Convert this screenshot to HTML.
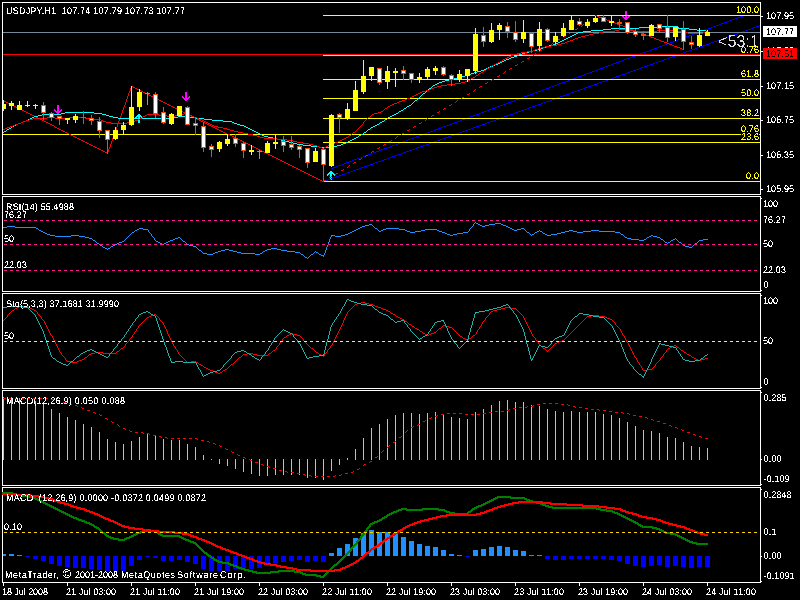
<!DOCTYPE html>
<html><head><meta charset="utf-8"><title>USDJPY,H1</title>
<style>
html,body{margin:0;padding:0;background:#000;width:800px;height:600px;overflow:hidden}
svg{display:block;font-family:"Liberation Sans",sans-serif}
text{font-family:"Liberation Sans",sans-serif}
</style></head><body>
<svg width="800" height="600" viewBox="0 0 800 600" shape-rendering="crispEdges">
<rect x="0" y="0" width="800" height="600" fill="#000"/>
<defs><filter id="tf" x="0" y="0" width="800" height="600" filterUnits="userSpaceOnUse" color-interpolation-filters="sRGB"><feComponentTransfer><feFuncA type="discrete" tableValues="0 0 0 0 1 1 1 1 1"/></feComponentTransfer></filter><filter id="tf2" x="0" y="0" width="800" height="600" filterUnits="userSpaceOnUse" color-interpolation-filters="sRGB"><feComponentTransfer><feFuncA type="discrete" tableValues="0 0 0 0 0 0 1 1 1 1"/></feComponentTransfer></filter><clipPath id="cp55"><rect x="763" y="40" width="37" height="8"/></clipPath><clipPath id="cpm"><rect x="3" y="3" width="757" height="191"/></clipPath></defs>
<rect x="2" y="2" width="759" height="1" fill="#fff"/>
<rect x="2" y="194" width="759" height="1" fill="#fff"/>
<rect x="2" y="2" width="1" height="193" fill="#fff"/>
<rect x="760" y="2" width="1" height="193" fill="#fff"/>
<rect x="2" y="196" width="759" height="1" fill="#fff"/>
<rect x="2" y="291" width="759" height="1" fill="#fff"/>
<rect x="2" y="196" width="1" height="96" fill="#fff"/>
<rect x="760" y="196" width="1" height="96" fill="#fff"/>
<rect x="2" y="293" width="759" height="1" fill="#fff"/>
<rect x="2" y="388" width="759" height="1" fill="#fff"/>
<rect x="2" y="293" width="1" height="96" fill="#fff"/>
<rect x="760" y="293" width="1" height="96" fill="#fff"/>
<rect x="2" y="390" width="759" height="1" fill="#fff"/>
<rect x="2" y="485" width="759" height="1" fill="#fff"/>
<rect x="2" y="390" width="1" height="96" fill="#fff"/>
<rect x="760" y="390" width="1" height="96" fill="#fff"/>
<rect x="2" y="487" width="759" height="1" fill="#fff"/>
<rect x="2" y="582" width="759" height="1" fill="#fff"/>
<rect x="2" y="487" width="1" height="96" fill="#fff"/>
<rect x="760" y="487" width="1" height="96" fill="#fff"/>
<rect x="57" y="105" width="2" height="1" fill="#ff00ff"/>
<rect x="57" y="106" width="2" height="1" fill="#ff00ff"/>
<rect x="57" y="107" width="2" height="1" fill="#ff00ff"/>
<rect x="57" y="108" width="2" height="1" fill="#ff00ff"/>
<rect x="54" y="109" width="1" height="1" fill="#ff00ff"/>
<rect x="57" y="109" width="2" height="1" fill="#ff00ff"/>
<rect x="61" y="109" width="1" height="1" fill="#ff00ff"/>
<rect x="54" y="110" width="2" height="1" fill="#ff00ff"/>
<rect x="57" y="110" width="2" height="1" fill="#ff00ff"/>
<rect x="60" y="110" width="2" height="1" fill="#ff00ff"/>
<rect x="55" y="111" width="6" height="1" fill="#ff00ff"/>
<rect x="56" y="112" width="4" height="1" fill="#ff00ff"/>
<rect x="57" y="113" width="2" height="1" fill="#ff00ff"/>
<rect x="138" y="114" width="2" height="1" fill="#00ffff"/>
<rect x="137" y="115" width="4" height="1" fill="#00ffff"/>
<rect x="136" y="116" width="6" height="1" fill="#00ffff"/>
<rect x="135" y="117" width="2" height="1" fill="#00ffff"/>
<rect x="138" y="117" width="2" height="1" fill="#00ffff"/>
<rect x="141" y="117" width="2" height="1" fill="#00ffff"/>
<rect x="135" y="118" width="1" height="1" fill="#00ffff"/>
<rect x="138" y="118" width="2" height="1" fill="#00ffff"/>
<rect x="142" y="118" width="1" height="1" fill="#00ffff"/>
<rect x="138" y="119" width="2" height="1" fill="#00ffff"/>
<rect x="138" y="120" width="2" height="1" fill="#00ffff"/>
<rect x="138" y="121" width="2" height="1" fill="#00ffff"/>
<rect x="138" y="122" width="2" height="1" fill="#00ffff"/>
<rect x="185" y="92" width="2" height="1" fill="#ff00ff"/>
<rect x="185" y="93" width="2" height="1" fill="#ff00ff"/>
<rect x="185" y="94" width="2" height="1" fill="#ff00ff"/>
<rect x="185" y="95" width="2" height="1" fill="#ff00ff"/>
<rect x="182" y="96" width="1" height="1" fill="#ff00ff"/>
<rect x="185" y="96" width="2" height="1" fill="#ff00ff"/>
<rect x="189" y="96" width="1" height="1" fill="#ff00ff"/>
<rect x="182" y="97" width="2" height="1" fill="#ff00ff"/>
<rect x="185" y="97" width="2" height="1" fill="#ff00ff"/>
<rect x="188" y="97" width="2" height="1" fill="#ff00ff"/>
<rect x="183" y="98" width="6" height="1" fill="#ff00ff"/>
<rect x="184" y="99" width="4" height="1" fill="#ff00ff"/>
<rect x="185" y="100" width="2" height="1" fill="#ff00ff"/>
<rect x="330" y="171" width="2" height="1" fill="#00ffff"/>
<rect x="329" y="172" width="4" height="1" fill="#00ffff"/>
<rect x="328" y="173" width="6" height="1" fill="#00ffff"/>
<rect x="327" y="174" width="2" height="1" fill="#00ffff"/>
<rect x="330" y="174" width="2" height="1" fill="#00ffff"/>
<rect x="333" y="174" width="2" height="1" fill="#00ffff"/>
<rect x="327" y="175" width="1" height="1" fill="#00ffff"/>
<rect x="330" y="175" width="2" height="1" fill="#00ffff"/>
<rect x="334" y="175" width="1" height="1" fill="#00ffff"/>
<rect x="330" y="176" width="2" height="1" fill="#00ffff"/>
<rect x="330" y="177" width="2" height="1" fill="#00ffff"/>
<rect x="330" y="178" width="2" height="1" fill="#00ffff"/>
<rect x="330" y="179" width="2" height="1" fill="#00ffff"/>
<rect x="625" y="11" width="2" height="1" fill="#ff00ff"/>
<rect x="625" y="12" width="2" height="1" fill="#ff00ff"/>
<rect x="625" y="13" width="2" height="1" fill="#ff00ff"/>
<rect x="625" y="14" width="2" height="1" fill="#ff00ff"/>
<rect x="622" y="15" width="1" height="1" fill="#ff00ff"/>
<rect x="625" y="15" width="2" height="1" fill="#ff00ff"/>
<rect x="629" y="15" width="1" height="1" fill="#ff00ff"/>
<rect x="622" y="16" width="2" height="1" fill="#ff00ff"/>
<rect x="625" y="16" width="2" height="1" fill="#ff00ff"/>
<rect x="628" y="16" width="2" height="1" fill="#ff00ff"/>
<rect x="623" y="17" width="6" height="1" fill="#ff00ff"/>
<rect x="624" y="18" width="4" height="1" fill="#ff00ff"/>
<rect x="625" y="19" width="2" height="1" fill="#ff00ff"/>
<g clip-path="url(#cpm)">
<path d="M759 9.5h1M756 10.5h3M754 11.5h2M751 12.5h3M748 13.5h3M746 14.5h2M743 15.5h3M740 16.5h3M738 17.5h2M735 18.5h3M732 19.5h3M729 20.5h3M727 21.5h2M724 22.5h3M721 23.5h3M719 24.5h2M716 25.5h3M713 26.5h3M711 27.5h2M708 28.5h3M705 29.5h3M702 30.5h3M700 31.5h2M697 32.5h3M694 33.5h3M692 34.5h2M689 35.5h3M686 36.5h3M684 37.5h2M681 38.5h3M678 39.5h3M676 40.5h2M673 41.5h3M670 42.5h3M667 43.5h3M665 44.5h2M662 45.5h3M659 46.5h3M657 47.5h2M654 48.5h3M651 49.5h3M649 50.5h2M646 51.5h3M643 52.5h3M640 53.5h3M638 54.5h2M635 55.5h3M632 56.5h3M630 57.5h2M627 58.5h3M624 59.5h3M622 60.5h2M619 61.5h3M616 62.5h3M613 63.5h3M611 64.5h2M608 65.5h3M605 66.5h3M603 67.5h2M600 68.5h3M597 69.5h3M595 70.5h2M592 71.5h3M589 72.5h3M586 73.5h3M584 74.5h2M581 75.5h3M578 76.5h3M576 77.5h2M573 78.5h3M570 79.5h3M568 80.5h2M565 81.5h3M562 82.5h3M559 83.5h3M557 84.5h2M554 85.5h3M551 86.5h3M549 87.5h2M546 88.5h3M543 89.5h3M541 90.5h2M538 91.5h3M535 92.5h3M533 93.5h2M530 94.5h3M527 95.5h3M524 96.5h3M522 97.5h2M519 98.5h3M516 99.5h3M514 100.5h2M511 101.5h3M508 102.5h3M506 103.5h2M503 104.5h3M500 105.5h3M497 106.5h3M495 107.5h2M492 108.5h3M489 109.5h3M487 110.5h2M484 111.5h3M481 112.5h3M479 113.5h2M476 114.5h3M473 115.5h3M470 116.5h3M468 117.5h2M465 118.5h3M462 119.5h3M460 120.5h2M457 121.5h3M454 122.5h3M452 123.5h2M449 124.5h3M446 125.5h3M443 126.5h3M441 127.5h2M438 128.5h3M435 129.5h3M433 130.5h2M430 131.5h3M427 132.5h3M425 133.5h2M422 134.5h3M419 135.5h3M416 136.5h3M414 137.5h2M411 138.5h3M408 139.5h3M406 140.5h2M403 141.5h3M400 142.5h3M398 143.5h2M395 144.5h3M392 145.5h3M390 146.5h2M387 147.5h3M384 148.5h3M381 149.5h3M379 150.5h2M376 151.5h3M373 152.5h3M371 153.5h2M368 154.5h3M365 155.5h3M363 156.5h2M360 157.5h3M357 158.5h3M354 159.5h3M352 160.5h2M349 161.5h3M346 162.5h3M344 163.5h2M341 164.5h3M338 165.5h3M336 166.5h2M333 167.5h3M331 168.5h2" stroke="#0000ff" stroke-width="1" fill="none"/>
<path d="M759 25.5h1M756 26.5h3M753 27.5h3M751 28.5h2M748 29.5h3M745 30.5h3M742 31.5h3M739 32.5h3M737 33.5h2M734 34.5h3M731 35.5h3M728 36.5h3M725 37.5h3M723 38.5h2M720 39.5h3M717 40.5h3M714 41.5h3M711 42.5h3M709 43.5h2M706 44.5h3M703 45.5h3M700 46.5h3M697 47.5h3M695 48.5h2M692 49.5h3M689 50.5h3M686 51.5h3M683 52.5h3M681 53.5h2M678 54.5h3M675 55.5h3M672 56.5h3M669 57.5h3M667 58.5h2M664 59.5h3M661 60.5h3M658 61.5h3M655 62.5h3M653 63.5h2M650 64.5h3M647 65.5h3M644 66.5h3M641 67.5h3M639 68.5h2M636 69.5h3M633 70.5h3M630 71.5h3M627 72.5h3M625 73.5h2M622 74.5h3M619 75.5h3M616 76.5h3M613 77.5h3M611 78.5h2M608 79.5h3M605 80.5h3M602 81.5h3M599 82.5h3M597 83.5h2M594 84.5h3M591 85.5h3M588 86.5h3M585 87.5h3M583 88.5h2M580 89.5h3M577 90.5h3M574 91.5h3M571 92.5h3M569 93.5h2M566 94.5h3M563 95.5h3M560 96.5h3M557 97.5h3M555 98.5h2M552 99.5h3M549 100.5h3M546 101.5h3M543 102.5h3M541 103.5h2M538 104.5h3M535 105.5h3M532 106.5h3M529 107.5h3M527 108.5h2M524 109.5h3M521 110.5h3M518 111.5h3M515 112.5h3M513 113.5h2M510 114.5h3M507 115.5h3M504 116.5h3M501 117.5h3M499 118.5h2M496 119.5h3M493 120.5h3M490 121.5h3M487 122.5h3M485 123.5h2M482 124.5h3M479 125.5h3M476 126.5h3M473 127.5h3M471 128.5h2M468 129.5h3M465 130.5h3M462 131.5h3M459 132.5h3M457 133.5h2M454 134.5h3M451 135.5h3M448 136.5h3M445 137.5h3M443 138.5h2M440 139.5h3M437 140.5h3M434 141.5h3M431 142.5h3M429 143.5h2M426 144.5h3M423 145.5h3M420 146.5h3M417 147.5h3M415 148.5h2M412 149.5h3M409 150.5h3M406 151.5h3M403 152.5h3M401 153.5h2M398 154.5h3M395 155.5h3M392 156.5h3M389 157.5h3M387 158.5h2M384 159.5h3M381 160.5h3M378 161.5h3M375 162.5h3M373 163.5h2M370 164.5h3M367 165.5h3M364 166.5h3M361 167.5h3M359 168.5h2M356 169.5h3M353 170.5h3M350 171.5h3M347 172.5h3M345 173.5h2M342 174.5h3M339 175.5h3M336 176.5h3M333 177.5h3M331 178.5h2M328 179.5h3M325 180.5h3M323 181.5h2" stroke="#0000ff" stroke-width="1" fill="none"/>
<rect x="323" y="15" width="437" height="1" fill="#ffff00"/>
<rect x="323" y="79" width="437" height="1" fill="#ffff00"/>
<rect x="323" y="98" width="437" height="1" fill="#ffff00"/>
<rect x="323" y="118" width="437" height="1" fill="#ffff00"/>
<rect x="323" y="142" width="437" height="1" fill="#ffff00"/>
<rect x="323" y="181" width="437" height="1" fill="#ffff00"/>
<rect x="323" y="55" width="437" height="1" fill="#ffff00"/>
<rect x="3" y="134" width="757" height="1" fill="#ffff00"/>
<rect x="736" y="5" width="23" height="10" fill="#000"/>
<rect x="741" y="69" width="18" height="10" fill="#000"/>
<rect x="741" y="88" width="18" height="10" fill="#000"/>
<rect x="741" y="108" width="18" height="10" fill="#000"/>
<rect x="741" y="124" width="18" height="10" fill="#000"/>
<rect x="741" y="132" width="18" height="10" fill="#000"/>
<rect x="746" y="171" width="13" height="10" fill="#000"/>
<rect x="3" y="54" width="757" height="1" fill="#ff0000"/>
<path d="M131 86.5h2M131 87.5h1M133 87.5h2M130 88.5h1M135 88.5h2M130 89.5h1M137 89.5h2M130 90.5h1M139 90.5h2M129 91.5h1M141 91.5h2M129 92.5h1M143 92.5h2M128 93.5h1M145 93.5h2M128 94.5h1M147 94.5h2M128 95.5h1M149 95.5h2M127 96.5h1M151 96.5h2M127 97.5h1M153 97.5h2M127 98.5h1M155 98.5h2M126 99.5h1M157 99.5h2M3 100.5h1M126 100.5h1M159 100.5h2M4 101.5h2M126 101.5h1M161 101.5h2M6 102.5h2M125 102.5h1M163 102.5h2M8 103.5h2M125 103.5h1M165 103.5h2M10 104.5h2M125 104.5h1M167 104.5h2M12 105.5h2M124 105.5h1M169 105.5h2M14 106.5h2M124 106.5h1M171 106.5h2M16 107.5h2M123 107.5h1M173 107.5h2M18 108.5h2M123 108.5h1M175 108.5h2M20 109.5h2M123 109.5h1M177 109.5h2M22 110.5h2M122 110.5h1M179 110.5h2M24 111.5h2M122 111.5h1M181 111.5h2M26 112.5h2M122 112.5h1M183 112.5h2M28 113.5h2M121 113.5h1M185 113.5h2M30 114.5h2M121 114.5h1M187 114.5h2M32 115.5h2M121 115.5h1M189 115.5h2M34 116.5h2M120 116.5h1M191 116.5h2M36 117.5h2M120 117.5h1M193 117.5h2M38 118.5h2M120 118.5h1M195 118.5h2M40 119.5h2M119 119.5h1M197 119.5h2M42 120.5h2M119 120.5h1M199 120.5h2M44 121.5h2M118 121.5h1M201 121.5h2M46 122.5h2M118 122.5h1M203 122.5h2M48 123.5h2M118 123.5h1M205 123.5h2M50 124.5h2M117 124.5h1M207 124.5h2M52 125.5h2M117 125.5h1M209 125.5h2M54 126.5h1M117 126.5h1M211 126.5h2M55 127.5h2M116 127.5h1M213 127.5h2M57 128.5h2M116 128.5h1M215 128.5h2M59 129.5h2M116 129.5h1M217 129.5h2M61 130.5h2M115 130.5h1M219 130.5h2M63 131.5h2M115 131.5h1M221 131.5h2M65 132.5h2M115 132.5h1M223 132.5h2M67 133.5h2M114 133.5h1M225 133.5h2M69 134.5h2M114 134.5h1M227 134.5h3M71 135.5h2M113 135.5h1M230 135.5h2M73 136.5h2M113 136.5h1M232 136.5h2M75 137.5h2M113 137.5h1M234 137.5h2M77 138.5h2M112 138.5h1M236 138.5h2M79 139.5h2M112 139.5h1M238 139.5h2M81 140.5h2M112 140.5h1M240 140.5h2M83 141.5h2M111 141.5h1M242 141.5h2M85 142.5h2M111 142.5h1M244 142.5h2M87 143.5h2M111 143.5h1M246 143.5h2M89 144.5h2M110 144.5h1M248 144.5h2M91 145.5h2M110 145.5h1M250 145.5h2M93 146.5h2M110 146.5h1M252 146.5h2M95 147.5h2M109 147.5h1M254 147.5h2M97 148.5h2M109 148.5h1M256 148.5h2M99 149.5h2M108 149.5h1M258 149.5h2M101 150.5h2M108 150.5h1M260 150.5h2M103 151.5h2M108 151.5h1M262 151.5h2M105 152.5h3M264 152.5h2M107 153.5h1M266 153.5h2M268 154.5h2M270 155.5h2M272 156.5h2M274 157.5h2M276 158.5h2M278 159.5h2M280 160.5h2M282 161.5h2M284 162.5h2M286 163.5h2M288 164.5h2M290 165.5h2M292 166.5h2M294 167.5h2M296 168.5h2M298 169.5h2M300 170.5h2M302 171.5h2M304 172.5h2M306 173.5h2M308 174.5h2M310 175.5h2M312 176.5h2M314 177.5h2M316 178.5h2M318 179.5h2M320 180.5h2M322 181.5h2" stroke="#ff0000" stroke-width="1" fill="none"/>
<path d="M595 17.5h1M593 18.5h2M588 21.5h2M587 22.5h1M583 24.5h1M582 25.5h1M581 26.5h1M577 28.5h1M575 29.5h2M570 32.5h2M569 33.5h1M565 35.5h1M563 36.5h2M558 39.5h2M557 40.5h1M553 42.5h1M552 43.5h1M551 44.5h1M547 46.5h1M545 47.5h2M540 50.5h2M539 51.5h1M535 53.5h1M534 54.5h1M533 55.5h1M529 57.5h1M527 58.5h2M522 61.5h2M521 62.5h1M517 64.5h1M515 65.5h2M510 68.5h2M509 69.5h1M505 71.5h1M504 72.5h1M503 73.5h1M499 75.5h1M497 76.5h2M492 79.5h2M491 80.5h1M487 82.5h1M485 83.5h2M480 86.5h2M479 87.5h1M475 89.5h1M474 90.5h1M473 91.5h1M469 93.5h1M467 94.5h2M462 97.5h2M461 98.5h1M457 100.5h1M456 101.5h1M455 102.5h1M451 104.5h1M449 105.5h2M444 108.5h2M443 109.5h1M439 111.5h1M437 112.5h2M432 115.5h2M431 116.5h1M427 118.5h1M426 119.5h1M425 120.5h1M421 122.5h1M419 123.5h2M414 126.5h2M413 127.5h1M409 129.5h1M407 130.5h2M402 133.5h2M401 134.5h1M397 136.5h1M396 137.5h1M395 138.5h1M391 140.5h1M389 141.5h2M384 144.5h2M383 145.5h1M379 147.5h1M377 148.5h2M372 151.5h2M371 152.5h1M366 155.5h2M365 156.5h1M361 158.5h1M359 159.5h2M354 162.5h2M353 163.5h1M349 165.5h1M348 166.5h1M347 167.5h1M343 169.5h1M341 170.5h2M336 173.5h2M335 174.5h1M331 176.5h1M329 177.5h2M324 180.5h2M323 181.5h1" stroke="#ff0000" stroke-width="1" fill="none"/>
<path d="M595 15.5h2M597 16.5h2M599 17.5h3M602 18.5h3M605 19.5h2M607 20.5h3M610 21.5h2M612 22.5h3M615 23.5h2M617 24.5h3M620 25.5h3M623 26.5h2M625 27.5h3M628 28.5h2M630 29.5h3M633 30.5h3M636 31.5h2M638 32.5h3M641 33.5h2M643 34.5h3M646 35.5h3M649 36.5h2M651 37.5h3M654 38.5h2M656 39.5h3M659 40.5h2M661 41.5h3M664 42.5h3M667 43.5h2M669 44.5h3M672 45.5h2M674 46.5h3M677 47.5h3M680 48.5h2M682 49.5h2" stroke="#ff0000" stroke-width="1" fill="none"/>
<rect x="3" y="32" width="757" height="1" fill="#778899"/>
<path d="M659 26.5h19M639 27.5h20M678 27.5h1M611 28.5h28M678 28.5h11M603 29.5h8M689 29.5h8M591 30.5h12M697 30.5h9M583 31.5h8M706 31.5h2M578 32.5h5M576 33.5h2M574 34.5h2M572 35.5h2M570 36.5h2M568 37.5h2M566 38.5h2M564 39.5h2M562 40.5h2M560 41.5h2M558 42.5h2M556 43.5h2M553 44.5h3M549 45.5h4M546 46.5h3M543 47.5h3M541 48.5h2M537 49.5h4M533 50.5h4M529 51.5h4M525 52.5h4M522 53.5h3M519 54.5h3M517 55.5h2M514 56.5h3M511 57.5h3M509 58.5h2M506 59.5h3M504 60.5h2M502 61.5h2M500 62.5h2M498 63.5h2M495 64.5h3M493 65.5h2M490 66.5h3M488 67.5h2M486 68.5h2M484 69.5h2M481 70.5h3M477 71.5h4M474 72.5h3M471 73.5h3M469 74.5h2M465 75.5h4M461 76.5h4M457 77.5h4M453 78.5h4M449 79.5h4M445 80.5h4M442 81.5h3M439 82.5h3M437 83.5h2M435 84.5h2M433 85.5h2M432 86.5h1M431 87.5h1M429 88.5h2M428 89.5h1M427 90.5h1M426 91.5h1M425 92.5h1M423 93.5h2M422 94.5h1M421 95.5h1M420 96.5h1M419 97.5h1M418 98.5h1M417 99.5h1M415 100.5h2M414 101.5h1M413 102.5h1M412 103.5h1M411 104.5h1M409 105.5h2M407 106.5h2M406 107.5h1M404 108.5h2M403 109.5h1M401 110.5h2M399 111.5h2M65 112.5h29M398 112.5h1M61 113.5h4M94 113.5h8M396 113.5h2M42 114.5h19M102 114.5h4M394 114.5h2M38 115.5h4M106 115.5h3M392 115.5h2M34 116.5h4M109 116.5h4M178 116.5h7M390 116.5h2M32 117.5h2M113 117.5h5M174 117.5h4M185 117.5h10M388 117.5h2M30 118.5h2M118 118.5h56M195 118.5h9M387 118.5h1M28 119.5h2M204 119.5h8M385 119.5h2M26 120.5h2M212 120.5h11M384 120.5h1M23 121.5h3M223 121.5h9M382 121.5h2M21 122.5h2M232 122.5h2M380 122.5h2M18 123.5h3M234 123.5h3M379 123.5h1M16 124.5h2M237 124.5h3M377 124.5h2M14 125.5h2M240 125.5h4M375 125.5h2M12 126.5h2M244 126.5h2M373 126.5h2M11 127.5h1M246 127.5h2M371 127.5h2M9 128.5h2M248 128.5h2M370 128.5h1M7 129.5h2M250 129.5h2M368 129.5h2M6 130.5h1M252 130.5h2M367 130.5h1M4 131.5h2M254 131.5h2M366 131.5h1M3 132.5h1M256 132.5h2M364 132.5h2M258 133.5h2M363 133.5h1M260 134.5h2M361 134.5h2M262 135.5h2M359 135.5h2M264 136.5h4M358 136.5h1M268 137.5h5M356 137.5h2M273 138.5h4M354 138.5h2M277 139.5h4M352 139.5h2M281 140.5h4M350 140.5h2M285 141.5h4M348 141.5h2M289 142.5h4M346 142.5h2M293 143.5h4M343 143.5h3M297 144.5h6M341 144.5h2M303 145.5h8M337 145.5h4M311 146.5h8M333 146.5h4M319 147.5h14" stroke="#00ffff" stroke-width="1" fill="none"/>
<path d="M619 29.5h6M615 30.5h4M625 30.5h8M657 30.5h16M603 31.5h12M633 31.5h24M673 31.5h8M599 32.5h4M681 32.5h7M703 32.5h5M593 33.5h6M688 33.5h15M589 34.5h4M585 35.5h4M581 36.5h4M578 37.5h3M575 38.5h3M573 39.5h2M570 40.5h3M567 41.5h3M565 42.5h2M561 43.5h4M557 44.5h4M551 45.5h6M545 46.5h6M541 47.5h4M538 48.5h3M535 49.5h3M533 50.5h2M527 51.5h6M521 52.5h6M517 53.5h4M514 54.5h3M511 55.5h3M509 56.5h2M507 57.5h2M505 58.5h2M503 59.5h2M502 60.5h1M500 61.5h2M498 62.5h2M496 63.5h2M494 64.5h2M492 65.5h2M491 66.5h1M489 67.5h2M487 68.5h2M486 69.5h1M484 70.5h2M483 71.5h1M481 72.5h2M479 73.5h2M478 74.5h1M476 75.5h2M475 76.5h1M473 77.5h2M471 78.5h2M470 79.5h1M468 80.5h2M465 81.5h3M461 82.5h4M455 83.5h6M447 84.5h8M441 85.5h6M437 86.5h4M434 87.5h3M431 88.5h3M429 89.5h2M426 90.5h3M422 91.5h4M420 92.5h2M418 93.5h2M416 94.5h2M414 95.5h2M412 96.5h2M410 97.5h2M407 98.5h3M405 99.5h2M402 100.5h3M399 101.5h3M397 102.5h2M394 103.5h3M392 104.5h2M390 105.5h2M388 106.5h2M387 107.5h1M385 108.5h2M384 109.5h1M383 110.5h1M381 111.5h2M378 112.5h3M184 113.5h3M374 113.5h4M147 114.5h12M181 114.5h3M187 114.5h2M372 114.5h2M145 115.5h2M159 115.5h8M175 115.5h6M189 115.5h3M371 115.5h1M143 116.5h2M167 116.5h8M192 116.5h2M370 116.5h1M47 117.5h8M69 117.5h16M142 117.5h1M194 117.5h3M368 117.5h2M33 118.5h14M55 118.5h14M85 118.5h4M140 118.5h2M197 118.5h2M367 118.5h1M29 119.5h4M89 119.5h12M138 119.5h2M199 119.5h3M366 119.5h1M26 120.5h3M101 120.5h2M135 120.5h3M202 120.5h2M365 120.5h1M23 121.5h3M103 121.5h3M133 121.5h2M204 121.5h2M364 121.5h1M21 122.5h2M106 122.5h5M127 122.5h6M206 122.5h2M363 122.5h1M18 123.5h3M111 123.5h16M208 123.5h2M363 123.5h1M15 124.5h3M210 124.5h2M362 124.5h1M13 125.5h2M212 125.5h2M361 125.5h1M10 126.5h3M214 126.5h4M360 126.5h1M7 127.5h3M218 127.5h5M359 127.5h1M5 128.5h2M223 128.5h4M358 128.5h1M3 129.5h2M227 129.5h3M357 129.5h1M230 130.5h4M356 130.5h1M234 131.5h4M355 131.5h1M238 132.5h5M353 132.5h2M243 133.5h5M352 133.5h1M248 134.5h5M351 134.5h1M253 135.5h4M349 135.5h2M257 136.5h3M348 136.5h1M260 137.5h4M346 137.5h2M264 138.5h13M344 138.5h2M277 139.5h10M342 139.5h2M287 140.5h6M340 140.5h2M293 141.5h4M338 141.5h2M297 142.5h6M335 142.5h3M303 143.5h6M333 143.5h2M309 144.5h4M330 144.5h3M313 145.5h4M328 145.5h2M317 146.5h2M326 146.5h2M319 147.5h3M324 147.5h2M322 148.5h2" stroke="#ff0000" stroke-width="1" fill="none"/>
<rect x="3" y="100" width="1" height="11" fill="#ffff00"/>
<rect x="1" y="104" width="5" height="5" fill="#ffff00"/>
<rect x="11" y="101" width="1" height="9" fill="#ffff00"/>
<rect x="9" y="103" width="5" height="3" fill="#ffff00"/>
<rect x="19" y="101" width="1" height="9" fill="#ffff00"/>
<rect x="17" y="105" width="5" height="5" fill="#ffff00"/>
<rect x="27" y="101" width="1" height="6" fill="#ffff00"/>
<rect x="25" y="105" width="5" height="1" fill="#ffff00"/>
<rect x="35" y="104" width="1" height="5" fill="#ffff00"/>
<rect x="33" y="105" width="5" height="1" fill="#ffff00"/>
<rect x="43" y="102" width="1" height="18" fill="#ff4500"/>
<rect x="41" y="105" width="5" height="8" fill="#ff4500"/>
<rect x="42" y="106" width="3" height="6" fill="#fff"/>
<rect x="51" y="112" width="1" height="9" fill="#ff4500"/>
<rect x="49" y="113" width="5" height="5" fill="#ff4500"/>
<rect x="50" y="114" width="3" height="3" fill="#fff"/>
<rect x="59" y="116" width="1" height="9" fill="#ff4500"/>
<rect x="57" y="116" width="5" height="3" fill="#ff4500"/>
<rect x="58" y="117" width="3" height="1" fill="#fff"/>
<rect x="67" y="118" width="1" height="6" fill="#ffff00"/>
<rect x="65" y="118" width="5" height="2" fill="#ffff00"/>
<rect x="75" y="114" width="1" height="9" fill="#ffff00"/>
<rect x="73" y="116" width="5" height="4" fill="#ffff00"/>
<rect x="83" y="111" width="1" height="13" fill="#ff4500"/>
<rect x="81" y="117" width="5" height="1" fill="#ff4500"/>
<rect x="91" y="115" width="1" height="10" fill="#ff4500"/>
<rect x="89" y="118" width="5" height="3" fill="#ff4500"/>
<rect x="90" y="119" width="3" height="1" fill="#fff"/>
<rect x="99" y="117" width="1" height="21" fill="#ff4500"/>
<rect x="97" y="121" width="5" height="10" fill="#ff4500"/>
<rect x="98" y="122" width="3" height="8" fill="#fff"/>
<rect x="107" y="130" width="1" height="24" fill="#ff4500"/>
<rect x="105" y="130" width="5" height="10" fill="#ff4500"/>
<rect x="106" y="131" width="3" height="8" fill="#fff"/>
<rect x="115" y="127" width="1" height="13" fill="#ffff00"/>
<rect x="113" y="130" width="5" height="9" fill="#ffff00"/>
<rect x="123" y="122" width="1" height="12" fill="#ffff00"/>
<rect x="121" y="125" width="5" height="5" fill="#ffff00"/>
<rect x="131" y="86" width="1" height="40" fill="#ffff00"/>
<rect x="129" y="107" width="5" height="18" fill="#ffff00"/>
<rect x="139" y="89" width="1" height="22" fill="#ffff00"/>
<rect x="137" y="92" width="5" height="15" fill="#ffff00"/>
<rect x="147" y="92" width="1" height="13" fill="#00ff00"/>
<rect x="145" y="93" width="5" height="1" fill="#00ff00"/>
<rect x="155" y="92" width="1" height="26" fill="#ff4500"/>
<rect x="153" y="94" width="5" height="20" fill="#ff4500"/>
<rect x="154" y="95" width="3" height="18" fill="#fff"/>
<rect x="163" y="107" width="1" height="17" fill="#ff4500"/>
<rect x="161" y="112" width="5" height="11" fill="#ff4500"/>
<rect x="162" y="113" width="3" height="9" fill="#fff"/>
<rect x="171" y="113" width="1" height="12" fill="#ffff00"/>
<rect x="169" y="114" width="5" height="10" fill="#ffff00"/>
<rect x="179" y="106" width="1" height="11" fill="#ffff00"/>
<rect x="177" y="106" width="5" height="10" fill="#ffff00"/>
<rect x="187" y="106" width="1" height="19" fill="#ff4500"/>
<rect x="185" y="107" width="5" height="18" fill="#ff4500"/>
<rect x="186" y="108" width="3" height="16" fill="#fff"/>
<rect x="195" y="117" width="1" height="18" fill="#ff4500"/>
<rect x="193" y="123" width="5" height="3" fill="#ff4500"/>
<rect x="194" y="124" width="3" height="1" fill="#fff"/>
<rect x="203" y="122" width="1" height="30" fill="#ff4500"/>
<rect x="201" y="126" width="5" height="22" fill="#ff4500"/>
<rect x="202" y="127" width="3" height="20" fill="#fff"/>
<rect x="211" y="144" width="1" height="13" fill="#ff4500"/>
<rect x="209" y="146" width="5" height="4" fill="#ff4500"/>
<rect x="210" y="147" width="3" height="2" fill="#fff"/>
<rect x="219" y="141" width="1" height="11" fill="#ffff00"/>
<rect x="217" y="142" width="5" height="7" fill="#ffff00"/>
<rect x="227" y="134" width="1" height="12" fill="#ffff00"/>
<rect x="225" y="139" width="5" height="5" fill="#ffff00"/>
<rect x="235" y="134" width="1" height="13" fill="#ff4500"/>
<rect x="233" y="138" width="5" height="6" fill="#ff4500"/>
<rect x="234" y="139" width="3" height="4" fill="#fff"/>
<rect x="243" y="142" width="1" height="16" fill="#ff4500"/>
<rect x="241" y="143" width="5" height="8" fill="#ff4500"/>
<rect x="242" y="144" width="3" height="6" fill="#fff"/>
<rect x="251" y="145" width="1" height="10" fill="#ffff00"/>
<rect x="249" y="150" width="5" height="2" fill="#ffff00"/>
<rect x="259" y="150" width="1" height="9" fill="#00ff00"/>
<rect x="257" y="151" width="5" height="1" fill="#00ff00"/>
<rect x="267" y="141" width="1" height="12" fill="#ffff00"/>
<rect x="265" y="143" width="5" height="10" fill="#ffff00"/>
<rect x="275" y="135" width="1" height="14" fill="#ffff00"/>
<rect x="273" y="142" width="5" height="2" fill="#ffff00"/>
<rect x="283" y="136" width="1" height="16" fill="#ff4500"/>
<rect x="281" y="141" width="5" height="5" fill="#ff4500"/>
<rect x="282" y="142" width="3" height="3" fill="#fff"/>
<rect x="291" y="136" width="1" height="14" fill="#ff4500"/>
<rect x="289" y="144" width="5" height="4" fill="#ff4500"/>
<rect x="290" y="145" width="3" height="2" fill="#fff"/>
<rect x="299" y="145" width="1" height="13" fill="#ff4500"/>
<rect x="297" y="146" width="5" height="4" fill="#ff4500"/>
<rect x="298" y="147" width="3" height="2" fill="#fff"/>
<rect x="307" y="148" width="1" height="20" fill="#ff4500"/>
<rect x="305" y="148" width="5" height="15" fill="#ff4500"/>
<rect x="306" y="149" width="3" height="13" fill="#fff"/>
<rect x="315" y="148" width="1" height="14" fill="#ffff00"/>
<rect x="313" y="151" width="5" height="11" fill="#ffff00"/>
<rect x="323" y="148" width="1" height="33" fill="#ff4500"/>
<rect x="321" y="149" width="5" height="16" fill="#ff4500"/>
<rect x="322" y="150" width="3" height="14" fill="#fff"/>
<rect x="331" y="114" width="1" height="53" fill="#ffff00"/>
<rect x="329" y="115" width="5" height="51" fill="#ffff00"/>
<rect x="339" y="113" width="1" height="20" fill="#ff4500"/>
<rect x="337" y="114" width="5" height="4" fill="#ff4500"/>
<rect x="338" y="115" width="3" height="2" fill="#fff"/>
<rect x="347" y="103" width="1" height="17" fill="#ffff00"/>
<rect x="345" y="109" width="5" height="10" fill="#ffff00"/>
<rect x="355" y="81" width="1" height="30" fill="#ffff00"/>
<rect x="353" y="90" width="5" height="21" fill="#ffff00"/>
<rect x="363" y="60" width="1" height="34" fill="#ffff00"/>
<rect x="361" y="76" width="5" height="16" fill="#ffff00"/>
<rect x="371" y="67" width="1" height="14" fill="#ffff00"/>
<rect x="369" y="67" width="5" height="9" fill="#ffff00"/>
<rect x="379" y="68" width="1" height="17" fill="#ff4500"/>
<rect x="377" y="68" width="5" height="15" fill="#ff4500"/>
<rect x="378" y="69" width="3" height="13" fill="#fff"/>
<rect x="387" y="66" width="1" height="23" fill="#ffff00"/>
<rect x="385" y="71" width="5" height="11" fill="#ffff00"/>
<rect x="395" y="68" width="1" height="19" fill="#ffff00"/>
<rect x="393" y="71" width="5" height="2" fill="#ffff00"/>
<rect x="403" y="66" width="1" height="14" fill="#ff4500"/>
<rect x="401" y="70" width="5" height="4" fill="#ff4500"/>
<rect x="402" y="71" width="3" height="2" fill="#fff"/>
<rect x="411" y="73" width="1" height="10" fill="#ff4500"/>
<rect x="409" y="73" width="5" height="7" fill="#ff4500"/>
<rect x="410" y="74" width="3" height="5" fill="#fff"/>
<rect x="419" y="73" width="1" height="10" fill="#ffff00"/>
<rect x="417" y="77" width="5" height="2" fill="#ffff00"/>
<rect x="427" y="67" width="1" height="12" fill="#ffff00"/>
<rect x="425" y="69" width="5" height="8" fill="#ffff00"/>
<rect x="435" y="66" width="1" height="9" fill="#ffff00"/>
<rect x="433" y="68" width="5" height="3" fill="#ffff00"/>
<rect x="443" y="66" width="1" height="10" fill="#ff4500"/>
<rect x="441" y="67" width="5" height="8" fill="#ff4500"/>
<rect x="442" y="68" width="3" height="6" fill="#fff"/>
<rect x="451" y="74" width="1" height="12" fill="#ff4500"/>
<rect x="449" y="75" width="5" height="5" fill="#ff4500"/>
<rect x="450" y="76" width="3" height="3" fill="#fff"/>
<rect x="459" y="70" width="1" height="12" fill="#ffff00"/>
<rect x="457" y="74" width="5" height="5" fill="#ffff00"/>
<rect x="467" y="69" width="1" height="13" fill="#ffff00"/>
<rect x="465" y="69" width="5" height="7" fill="#ffff00"/>
<rect x="475" y="28" width="1" height="46" fill="#ffff00"/>
<rect x="473" y="34" width="5" height="37" fill="#ffff00"/>
<rect x="483" y="27" width="1" height="20" fill="#ff4500"/>
<rect x="481" y="35" width="5" height="7" fill="#ff4500"/>
<rect x="482" y="36" width="3" height="5" fill="#fff"/>
<rect x="491" y="23" width="1" height="20" fill="#ffff00"/>
<rect x="489" y="30" width="5" height="12" fill="#ffff00"/>
<rect x="499" y="23" width="1" height="17" fill="#ffff00"/>
<rect x="497" y="25" width="5" height="5" fill="#ffff00"/>
<rect x="507" y="22" width="1" height="16" fill="#ff4500"/>
<rect x="505" y="26" width="5" height="6" fill="#ff4500"/>
<rect x="506" y="27" width="3" height="4" fill="#fff"/>
<rect x="515" y="21" width="1" height="21" fill="#ff4500"/>
<rect x="513" y="32" width="5" height="8" fill="#ff4500"/>
<rect x="514" y="33" width="3" height="6" fill="#fff"/>
<rect x="523" y="20" width="1" height="23" fill="#ffff00"/>
<rect x="521" y="32" width="5" height="7" fill="#ffff00"/>
<rect x="531" y="32" width="1" height="21" fill="#ff4500"/>
<rect x="529" y="33" width="5" height="14" fill="#ff4500"/>
<rect x="530" y="34" width="3" height="12" fill="#fff"/>
<rect x="539" y="22" width="1" height="29" fill="#ffff00"/>
<rect x="537" y="29" width="5" height="17" fill="#ffff00"/>
<rect x="547" y="28" width="1" height="14" fill="#ff4500"/>
<rect x="545" y="29" width="5" height="12" fill="#ff4500"/>
<rect x="546" y="30" width="3" height="10" fill="#fff"/>
<rect x="555" y="32" width="1" height="12" fill="#ffff00"/>
<rect x="553" y="36" width="5" height="6" fill="#ffff00"/>
<rect x="563" y="23" width="1" height="14" fill="#ffff00"/>
<rect x="561" y="28" width="5" height="8" fill="#ffff00"/>
<rect x="571" y="16" width="1" height="14" fill="#ffff00"/>
<rect x="569" y="20" width="5" height="10" fill="#ffff00"/>
<rect x="579" y="18" width="1" height="8" fill="#ff4500"/>
<rect x="577" y="21" width="5" height="4" fill="#ff4500"/>
<rect x="578" y="22" width="3" height="2" fill="#fff"/>
<rect x="587" y="19" width="1" height="9" fill="#ffff00"/>
<rect x="585" y="22" width="5" height="4" fill="#ffff00"/>
<rect x="595" y="16" width="1" height="7" fill="#ffff00"/>
<rect x="593" y="18" width="5" height="4" fill="#ffff00"/>
<rect x="603" y="15" width="1" height="7" fill="#ff4500"/>
<rect x="601" y="17" width="5" height="5" fill="#ff4500"/>
<rect x="602" y="18" width="3" height="3" fill="#fff"/>
<rect x="611" y="16" width="1" height="10" fill="#ffff00"/>
<rect x="609" y="21" width="5" height="2" fill="#ffff00"/>
<rect x="619" y="19" width="1" height="11" fill="#ff4500"/>
<rect x="617" y="22" width="5" height="2" fill="#ff4500"/>
<rect x="627" y="22" width="1" height="12" fill="#ff4500"/>
<rect x="625" y="22" width="5" height="11" fill="#ff4500"/>
<rect x="626" y="23" width="3" height="9" fill="#fff"/>
<rect x="635" y="29" width="1" height="8" fill="#ff4500"/>
<rect x="633" y="31" width="5" height="4" fill="#ff4500"/>
<rect x="634" y="32" width="3" height="2" fill="#fff"/>
<rect x="643" y="31" width="1" height="9" fill="#ff4500"/>
<rect x="641" y="34" width="5" height="2" fill="#ff4500"/>
<rect x="651" y="24" width="1" height="12" fill="#ffff00"/>
<rect x="649" y="25" width="5" height="11" fill="#ffff00"/>
<rect x="659" y="24" width="1" height="8" fill="#ff4500"/>
<rect x="657" y="24" width="5" height="5" fill="#ff4500"/>
<rect x="658" y="25" width="3" height="3" fill="#fff"/>
<rect x="667" y="15" width="1" height="27" fill="#ff4500"/>
<rect x="665" y="27" width="5" height="11" fill="#ff4500"/>
<rect x="666" y="28" width="3" height="9" fill="#fff"/>
<rect x="675" y="27" width="1" height="14" fill="#ffff00"/>
<rect x="673" y="27" width="5" height="10" fill="#ffff00"/>
<rect x="683" y="21" width="1" height="29" fill="#ff4500"/>
<rect x="681" y="29" width="5" height="13" fill="#ff4500"/>
<rect x="682" y="30" width="3" height="11" fill="#fff"/>
<rect x="691" y="36" width="1" height="13" fill="#ff4500"/>
<rect x="689" y="42" width="5" height="3" fill="#ff4500"/>
<rect x="690" y="43" width="3" height="1" fill="#fff"/>
<rect x="699" y="28" width="1" height="19" fill="#ffff00"/>
<rect x="697" y="35" width="5" height="11" fill="#ffff00"/>
<rect x="707" y="30" width="1" height="6" fill="#ffff00"/>
<rect x="705" y="32" width="5" height="4" fill="#ffff00"/>
</g>
<g clip-path="url(#cpm)">
<g filter="url(#tf2)" text-rendering="geometricPrecision"><text transform="translate(718 47) scale(0.94 1)" fill="#e0e0e0" font-size="17.2" >&lt;53:17</text></g>
</g>
<rect x="760" y="2" width="1" height="193" fill="#fff"/>
<rect x="761" y="16" width="2" height="1" fill="#fff"/>
<rect x="761" y="86" width="2" height="1" fill="#fff"/>
<rect x="761" y="120" width="2" height="1" fill="#fff"/>
<rect x="761" y="155" width="2" height="1" fill="#fff"/>
<rect x="761" y="189" width="2" height="1" fill="#fff"/>
<rect x="761" y="51" width="2" height="1" fill="#fff"/>
<rect x="763" y="26" width="34" height="11" fill="#fff"/>
<rect x="763" y="48" width="34" height="11" fill="#ff0000"/>
<path d="M475 222.5h1M474 223.5h1M476 223.5h2M495 223.5h6M369 224.5h3M473 224.5h1M478 224.5h2M489 224.5h6M501 224.5h2M365 225.5h4M372 225.5h1M473 225.5h1M480 225.5h2M485 225.5h4M503 225.5h3M7 226.5h8M362 226.5h3M373 226.5h1M472 226.5h1M482 226.5h3M506 226.5h2M3 227.5h4M15 227.5h21M360 227.5h2M374 227.5h1M471 227.5h1M508 227.5h2M36 228.5h2M139 228.5h4M358 228.5h2M375 228.5h2M386 228.5h13M470 228.5h1M510 228.5h2M521 228.5h3M38 229.5h1M137 229.5h2M143 229.5h5M356 229.5h2M377 229.5h1M383 229.5h3M399 229.5h6M425 229.5h12M469 229.5h1M512 229.5h2M517 229.5h4M524 229.5h1M39 230.5h2M135 230.5h2M148 230.5h1M354 230.5h2M378 230.5h1M381 230.5h2M405 230.5h2M421 230.5h4M437 230.5h2M469 230.5h1M514 230.5h3M525 230.5h1M539 230.5h1M569 230.5h4M591 230.5h8M41 231.5h2M134 231.5h1M148 231.5h1M352 231.5h2M379 231.5h2M407 231.5h3M415 231.5h6M439 231.5h3M468 231.5h1M526 231.5h1M537 231.5h2M540 231.5h2M565 231.5h4M573 231.5h4M583 231.5h8M599 231.5h16M43 232.5h2M132 232.5h2M149 232.5h1M350 232.5h2M410 232.5h5M442 232.5h3M463 232.5h5M527 232.5h2M535 232.5h2M542 232.5h1M561 232.5h4M577 232.5h6M615 232.5h5M45 233.5h2M131 233.5h1M150 233.5h1M348 233.5h2M445 233.5h2M457 233.5h6M529 233.5h1M534 233.5h1M543 233.5h2M557 233.5h4M620 233.5h1M47 234.5h3M130 234.5h1M151 234.5h1M345 234.5h3M447 234.5h3M453 234.5h4M530 234.5h1M532 234.5h2M545 234.5h2M551 234.5h6M621 234.5h2M50 235.5h5M71 235.5h8M129 235.5h1M151 235.5h1M331 235.5h4M341 235.5h4M450 235.5h3M531 235.5h1M547 235.5h4M623 235.5h1M651 235.5h2M55 236.5h16M79 236.5h6M128 236.5h1M152 236.5h1M331 236.5h1M335 236.5h6M624 236.5h1M649 236.5h2M653 236.5h4M85 237.5h4M127 237.5h1M153 237.5h1M178 237.5h2M330 237.5h1M625 237.5h2M647 237.5h2M657 237.5h3M89 238.5h3M126 238.5h1M154 238.5h1M175 238.5h3M180 238.5h1M330 238.5h1M627 238.5h4M646 238.5h1M660 238.5h1M675 238.5h1M92 239.5h1M125 239.5h1M154 239.5h1M173 239.5h2M181 239.5h1M329 239.5h1M631 239.5h8M644 239.5h2M661 239.5h2M673 239.5h2M676 239.5h1M703 239.5h5M93 240.5h2M124 240.5h1M155 240.5h1M170 240.5h3M182 240.5h1M329 240.5h1M639 240.5h5M663 240.5h1M671 240.5h2M677 240.5h1M699 240.5h4M95 241.5h1M122 241.5h2M156 241.5h2M168 241.5h2M183 241.5h2M329 241.5h1M664 241.5h1M670 241.5h1M678 241.5h1M698 241.5h1M96 242.5h1M119 242.5h3M158 242.5h2M166 242.5h2M185 242.5h1M328 242.5h1M665 242.5h2M668 242.5h2M679 242.5h2M697 242.5h1M97 243.5h2M117 243.5h2M160 243.5h2M164 243.5h2M186 243.5h1M328 243.5h1M667 243.5h1M681 243.5h1M695 243.5h2M99 244.5h1M115 244.5h2M162 244.5h2M187 244.5h2M328 244.5h1M682 244.5h1M694 244.5h1M100 245.5h2M113 245.5h2M189 245.5h4M327 245.5h1M683 245.5h2M693 245.5h1M102 246.5h1M111 246.5h2M193 246.5h3M327 246.5h1M685 246.5h4M692 246.5h1M103 247.5h2M110 247.5h1M196 247.5h1M326 247.5h1M689 247.5h3M105 248.5h2M108 248.5h2M197 248.5h1M271 248.5h6M326 248.5h1M107 249.5h1M198 249.5h1M225 249.5h4M267 249.5h4M277 249.5h4M326 249.5h1M199 250.5h2M221 250.5h4M229 250.5h4M265 250.5h2M281 250.5h6M325 250.5h1M201 251.5h1M218 251.5h3M233 251.5h4M263 251.5h2M287 251.5h8M315 251.5h1M325 251.5h1M202 252.5h1M215 252.5h3M237 252.5h4M262 252.5h1M295 252.5h5M314 252.5h1M316 252.5h2M325 252.5h1M203 253.5h4M213 253.5h2M241 253.5h14M260 253.5h2M300 253.5h1M313 253.5h1M318 253.5h1M324 253.5h1M207 254.5h6M255 254.5h5M301 254.5h2M311 254.5h2M319 254.5h2M324 254.5h1M303 255.5h1M310 255.5h1M321 255.5h3M304 256.5h1M309 256.5h1M323 256.5h1M305 257.5h2M308 257.5h1M307 258.5h1" stroke="#1e90ff" stroke-width="1" fill="none"/>
<rect x="4" y="220" width="3" height="1" fill="#ff1493"/>
<rect x="10" y="220" width="3" height="1" fill="#ff1493"/>
<rect x="16" y="220" width="3" height="1" fill="#ff1493"/>
<rect x="22" y="220" width="3" height="1" fill="#ff1493"/>
<rect x="28" y="220" width="3" height="1" fill="#ff1493"/>
<rect x="34" y="220" width="3" height="1" fill="#ff1493"/>
<rect x="40" y="220" width="3" height="1" fill="#ff1493"/>
<rect x="46" y="220" width="3" height="1" fill="#ff1493"/>
<rect x="52" y="220" width="3" height="1" fill="#ff1493"/>
<rect x="58" y="220" width="3" height="1" fill="#ff1493"/>
<rect x="64" y="220" width="3" height="1" fill="#ff1493"/>
<rect x="70" y="220" width="3" height="1" fill="#ff1493"/>
<rect x="76" y="220" width="3" height="1" fill="#ff1493"/>
<rect x="82" y="220" width="3" height="1" fill="#ff1493"/>
<rect x="88" y="220" width="3" height="1" fill="#ff1493"/>
<rect x="94" y="220" width="3" height="1" fill="#ff1493"/>
<rect x="100" y="220" width="3" height="1" fill="#ff1493"/>
<rect x="106" y="220" width="3" height="1" fill="#ff1493"/>
<rect x="112" y="220" width="3" height="1" fill="#ff1493"/>
<rect x="118" y="220" width="3" height="1" fill="#ff1493"/>
<rect x="124" y="220" width="3" height="1" fill="#ff1493"/>
<rect x="130" y="220" width="3" height="1" fill="#ff1493"/>
<rect x="136" y="220" width="3" height="1" fill="#ff1493"/>
<rect x="142" y="220" width="3" height="1" fill="#ff1493"/>
<rect x="148" y="220" width="3" height="1" fill="#ff1493"/>
<rect x="154" y="220" width="3" height="1" fill="#ff1493"/>
<rect x="160" y="220" width="3" height="1" fill="#ff1493"/>
<rect x="166" y="220" width="3" height="1" fill="#ff1493"/>
<rect x="172" y="220" width="3" height="1" fill="#ff1493"/>
<rect x="178" y="220" width="3" height="1" fill="#ff1493"/>
<rect x="184" y="220" width="3" height="1" fill="#ff1493"/>
<rect x="190" y="220" width="3" height="1" fill="#ff1493"/>
<rect x="196" y="220" width="3" height="1" fill="#ff1493"/>
<rect x="202" y="220" width="3" height="1" fill="#ff1493"/>
<rect x="208" y="220" width="3" height="1" fill="#ff1493"/>
<rect x="214" y="220" width="3" height="1" fill="#ff1493"/>
<rect x="220" y="220" width="3" height="1" fill="#ff1493"/>
<rect x="226" y="220" width="3" height="1" fill="#ff1493"/>
<rect x="232" y="220" width="3" height="1" fill="#ff1493"/>
<rect x="238" y="220" width="3" height="1" fill="#ff1493"/>
<rect x="244" y="220" width="3" height="1" fill="#ff1493"/>
<rect x="250" y="220" width="3" height="1" fill="#ff1493"/>
<rect x="256" y="220" width="3" height="1" fill="#ff1493"/>
<rect x="262" y="220" width="3" height="1" fill="#ff1493"/>
<rect x="268" y="220" width="3" height="1" fill="#ff1493"/>
<rect x="274" y="220" width="3" height="1" fill="#ff1493"/>
<rect x="280" y="220" width="3" height="1" fill="#ff1493"/>
<rect x="286" y="220" width="3" height="1" fill="#ff1493"/>
<rect x="292" y="220" width="3" height="1" fill="#ff1493"/>
<rect x="298" y="220" width="3" height="1" fill="#ff1493"/>
<rect x="304" y="220" width="3" height="1" fill="#ff1493"/>
<rect x="310" y="220" width="3" height="1" fill="#ff1493"/>
<rect x="316" y="220" width="3" height="1" fill="#ff1493"/>
<rect x="322" y="220" width="3" height="1" fill="#ff1493"/>
<rect x="328" y="220" width="3" height="1" fill="#ff1493"/>
<rect x="334" y="220" width="3" height="1" fill="#ff1493"/>
<rect x="340" y="220" width="3" height="1" fill="#ff1493"/>
<rect x="346" y="220" width="3" height="1" fill="#ff1493"/>
<rect x="352" y="220" width="3" height="1" fill="#ff1493"/>
<rect x="358" y="220" width="3" height="1" fill="#ff1493"/>
<rect x="364" y="220" width="3" height="1" fill="#ff1493"/>
<rect x="370" y="220" width="3" height="1" fill="#ff1493"/>
<rect x="376" y="220" width="3" height="1" fill="#ff1493"/>
<rect x="382" y="220" width="3" height="1" fill="#ff1493"/>
<rect x="388" y="220" width="3" height="1" fill="#ff1493"/>
<rect x="394" y="220" width="3" height="1" fill="#ff1493"/>
<rect x="400" y="220" width="3" height="1" fill="#ff1493"/>
<rect x="406" y="220" width="3" height="1" fill="#ff1493"/>
<rect x="412" y="220" width="3" height="1" fill="#ff1493"/>
<rect x="418" y="220" width="3" height="1" fill="#ff1493"/>
<rect x="424" y="220" width="3" height="1" fill="#ff1493"/>
<rect x="430" y="220" width="3" height="1" fill="#ff1493"/>
<rect x="436" y="220" width="3" height="1" fill="#ff1493"/>
<rect x="442" y="220" width="3" height="1" fill="#ff1493"/>
<rect x="448" y="220" width="3" height="1" fill="#ff1493"/>
<rect x="454" y="220" width="3" height="1" fill="#ff1493"/>
<rect x="460" y="220" width="3" height="1" fill="#ff1493"/>
<rect x="466" y="220" width="3" height="1" fill="#ff1493"/>
<rect x="472" y="220" width="3" height="1" fill="#ff1493"/>
<rect x="478" y="220" width="3" height="1" fill="#ff1493"/>
<rect x="484" y="220" width="3" height="1" fill="#ff1493"/>
<rect x="490" y="220" width="3" height="1" fill="#ff1493"/>
<rect x="496" y="220" width="3" height="1" fill="#ff1493"/>
<rect x="502" y="220" width="3" height="1" fill="#ff1493"/>
<rect x="508" y="220" width="3" height="1" fill="#ff1493"/>
<rect x="514" y="220" width="3" height="1" fill="#ff1493"/>
<rect x="520" y="220" width="3" height="1" fill="#ff1493"/>
<rect x="526" y="220" width="3" height="1" fill="#ff1493"/>
<rect x="532" y="220" width="3" height="1" fill="#ff1493"/>
<rect x="538" y="220" width="3" height="1" fill="#ff1493"/>
<rect x="544" y="220" width="3" height="1" fill="#ff1493"/>
<rect x="550" y="220" width="3" height="1" fill="#ff1493"/>
<rect x="556" y="220" width="3" height="1" fill="#ff1493"/>
<rect x="562" y="220" width="3" height="1" fill="#ff1493"/>
<rect x="568" y="220" width="3" height="1" fill="#ff1493"/>
<rect x="574" y="220" width="3" height="1" fill="#ff1493"/>
<rect x="580" y="220" width="3" height="1" fill="#ff1493"/>
<rect x="586" y="220" width="3" height="1" fill="#ff1493"/>
<rect x="592" y="220" width="3" height="1" fill="#ff1493"/>
<rect x="598" y="220" width="3" height="1" fill="#ff1493"/>
<rect x="604" y="220" width="3" height="1" fill="#ff1493"/>
<rect x="610" y="220" width="3" height="1" fill="#ff1493"/>
<rect x="616" y="220" width="3" height="1" fill="#ff1493"/>
<rect x="622" y="220" width="3" height="1" fill="#ff1493"/>
<rect x="628" y="220" width="3" height="1" fill="#ff1493"/>
<rect x="634" y="220" width="3" height="1" fill="#ff1493"/>
<rect x="640" y="220" width="3" height="1" fill="#ff1493"/>
<rect x="646" y="220" width="3" height="1" fill="#ff1493"/>
<rect x="652" y="220" width="3" height="1" fill="#ff1493"/>
<rect x="658" y="220" width="3" height="1" fill="#ff1493"/>
<rect x="664" y="220" width="3" height="1" fill="#ff1493"/>
<rect x="670" y="220" width="3" height="1" fill="#ff1493"/>
<rect x="676" y="220" width="3" height="1" fill="#ff1493"/>
<rect x="682" y="220" width="3" height="1" fill="#ff1493"/>
<rect x="688" y="220" width="3" height="1" fill="#ff1493"/>
<rect x="694" y="220" width="3" height="1" fill="#ff1493"/>
<rect x="700" y="220" width="3" height="1" fill="#ff1493"/>
<rect x="706" y="220" width="3" height="1" fill="#ff1493"/>
<rect x="712" y="220" width="3" height="1" fill="#ff1493"/>
<rect x="718" y="220" width="3" height="1" fill="#ff1493"/>
<rect x="724" y="220" width="3" height="1" fill="#ff1493"/>
<rect x="730" y="220" width="3" height="1" fill="#ff1493"/>
<rect x="736" y="220" width="3" height="1" fill="#ff1493"/>
<rect x="742" y="220" width="3" height="1" fill="#ff1493"/>
<rect x="748" y="220" width="3" height="1" fill="#ff1493"/>
<rect x="754" y="220" width="3" height="1" fill="#ff1493"/>
<rect x="4" y="244" width="3" height="1" fill="#ff1493"/>
<rect x="10" y="244" width="3" height="1" fill="#ff1493"/>
<rect x="16" y="244" width="3" height="1" fill="#ff1493"/>
<rect x="22" y="244" width="3" height="1" fill="#ff1493"/>
<rect x="28" y="244" width="3" height="1" fill="#ff1493"/>
<rect x="34" y="244" width="3" height="1" fill="#ff1493"/>
<rect x="40" y="244" width="3" height="1" fill="#ff1493"/>
<rect x="46" y="244" width="3" height="1" fill="#ff1493"/>
<rect x="52" y="244" width="3" height="1" fill="#ff1493"/>
<rect x="58" y="244" width="3" height="1" fill="#ff1493"/>
<rect x="64" y="244" width="3" height="1" fill="#ff1493"/>
<rect x="70" y="244" width="3" height="1" fill="#ff1493"/>
<rect x="76" y="244" width="3" height="1" fill="#ff1493"/>
<rect x="82" y="244" width="3" height="1" fill="#ff1493"/>
<rect x="88" y="244" width="3" height="1" fill="#ff1493"/>
<rect x="94" y="244" width="3" height="1" fill="#ff1493"/>
<rect x="100" y="244" width="3" height="1" fill="#ff1493"/>
<rect x="106" y="244" width="3" height="1" fill="#ff1493"/>
<rect x="112" y="244" width="3" height="1" fill="#ff1493"/>
<rect x="118" y="244" width="3" height="1" fill="#ff1493"/>
<rect x="124" y="244" width="3" height="1" fill="#ff1493"/>
<rect x="130" y="244" width="3" height="1" fill="#ff1493"/>
<rect x="136" y="244" width="3" height="1" fill="#ff1493"/>
<rect x="142" y="244" width="3" height="1" fill="#ff1493"/>
<rect x="148" y="244" width="3" height="1" fill="#ff1493"/>
<rect x="154" y="244" width="3" height="1" fill="#ff1493"/>
<rect x="160" y="244" width="3" height="1" fill="#ff1493"/>
<rect x="166" y="244" width="3" height="1" fill="#ff1493"/>
<rect x="172" y="244" width="3" height="1" fill="#ff1493"/>
<rect x="178" y="244" width="3" height="1" fill="#ff1493"/>
<rect x="184" y="244" width="3" height="1" fill="#ff1493"/>
<rect x="190" y="244" width="3" height="1" fill="#ff1493"/>
<rect x="196" y="244" width="3" height="1" fill="#ff1493"/>
<rect x="202" y="244" width="3" height="1" fill="#ff1493"/>
<rect x="208" y="244" width="3" height="1" fill="#ff1493"/>
<rect x="214" y="244" width="3" height="1" fill="#ff1493"/>
<rect x="220" y="244" width="3" height="1" fill="#ff1493"/>
<rect x="226" y="244" width="3" height="1" fill="#ff1493"/>
<rect x="232" y="244" width="3" height="1" fill="#ff1493"/>
<rect x="238" y="244" width="3" height="1" fill="#ff1493"/>
<rect x="244" y="244" width="3" height="1" fill="#ff1493"/>
<rect x="250" y="244" width="3" height="1" fill="#ff1493"/>
<rect x="256" y="244" width="3" height="1" fill="#ff1493"/>
<rect x="262" y="244" width="3" height="1" fill="#ff1493"/>
<rect x="268" y="244" width="3" height="1" fill="#ff1493"/>
<rect x="274" y="244" width="3" height="1" fill="#ff1493"/>
<rect x="280" y="244" width="3" height="1" fill="#ff1493"/>
<rect x="286" y="244" width="3" height="1" fill="#ff1493"/>
<rect x="292" y="244" width="3" height="1" fill="#ff1493"/>
<rect x="298" y="244" width="3" height="1" fill="#ff1493"/>
<rect x="304" y="244" width="3" height="1" fill="#ff1493"/>
<rect x="310" y="244" width="3" height="1" fill="#ff1493"/>
<rect x="316" y="244" width="3" height="1" fill="#ff1493"/>
<rect x="322" y="244" width="3" height="1" fill="#ff1493"/>
<rect x="328" y="244" width="3" height="1" fill="#ff1493"/>
<rect x="334" y="244" width="3" height="1" fill="#ff1493"/>
<rect x="340" y="244" width="3" height="1" fill="#ff1493"/>
<rect x="346" y="244" width="3" height="1" fill="#ff1493"/>
<rect x="352" y="244" width="3" height="1" fill="#ff1493"/>
<rect x="358" y="244" width="3" height="1" fill="#ff1493"/>
<rect x="364" y="244" width="3" height="1" fill="#ff1493"/>
<rect x="370" y="244" width="3" height="1" fill="#ff1493"/>
<rect x="376" y="244" width="3" height="1" fill="#ff1493"/>
<rect x="382" y="244" width="3" height="1" fill="#ff1493"/>
<rect x="388" y="244" width="3" height="1" fill="#ff1493"/>
<rect x="394" y="244" width="3" height="1" fill="#ff1493"/>
<rect x="400" y="244" width="3" height="1" fill="#ff1493"/>
<rect x="406" y="244" width="3" height="1" fill="#ff1493"/>
<rect x="412" y="244" width="3" height="1" fill="#ff1493"/>
<rect x="418" y="244" width="3" height="1" fill="#ff1493"/>
<rect x="424" y="244" width="3" height="1" fill="#ff1493"/>
<rect x="430" y="244" width="3" height="1" fill="#ff1493"/>
<rect x="436" y="244" width="3" height="1" fill="#ff1493"/>
<rect x="442" y="244" width="3" height="1" fill="#ff1493"/>
<rect x="448" y="244" width="3" height="1" fill="#ff1493"/>
<rect x="454" y="244" width="3" height="1" fill="#ff1493"/>
<rect x="460" y="244" width="3" height="1" fill="#ff1493"/>
<rect x="466" y="244" width="3" height="1" fill="#ff1493"/>
<rect x="472" y="244" width="3" height="1" fill="#ff1493"/>
<rect x="478" y="244" width="3" height="1" fill="#ff1493"/>
<rect x="484" y="244" width="3" height="1" fill="#ff1493"/>
<rect x="490" y="244" width="3" height="1" fill="#ff1493"/>
<rect x="496" y="244" width="3" height="1" fill="#ff1493"/>
<rect x="502" y="244" width="3" height="1" fill="#ff1493"/>
<rect x="508" y="244" width="3" height="1" fill="#ff1493"/>
<rect x="514" y="244" width="3" height="1" fill="#ff1493"/>
<rect x="520" y="244" width="3" height="1" fill="#ff1493"/>
<rect x="526" y="244" width="3" height="1" fill="#ff1493"/>
<rect x="532" y="244" width="3" height="1" fill="#ff1493"/>
<rect x="538" y="244" width="3" height="1" fill="#ff1493"/>
<rect x="544" y="244" width="3" height="1" fill="#ff1493"/>
<rect x="550" y="244" width="3" height="1" fill="#ff1493"/>
<rect x="556" y="244" width="3" height="1" fill="#ff1493"/>
<rect x="562" y="244" width="3" height="1" fill="#ff1493"/>
<rect x="568" y="244" width="3" height="1" fill="#ff1493"/>
<rect x="574" y="244" width="3" height="1" fill="#ff1493"/>
<rect x="580" y="244" width="3" height="1" fill="#ff1493"/>
<rect x="586" y="244" width="3" height="1" fill="#ff1493"/>
<rect x="592" y="244" width="3" height="1" fill="#ff1493"/>
<rect x="598" y="244" width="3" height="1" fill="#ff1493"/>
<rect x="604" y="244" width="3" height="1" fill="#ff1493"/>
<rect x="610" y="244" width="3" height="1" fill="#ff1493"/>
<rect x="616" y="244" width="3" height="1" fill="#ff1493"/>
<rect x="622" y="244" width="3" height="1" fill="#ff1493"/>
<rect x="628" y="244" width="3" height="1" fill="#ff1493"/>
<rect x="634" y="244" width="3" height="1" fill="#ff1493"/>
<rect x="640" y="244" width="3" height="1" fill="#ff1493"/>
<rect x="646" y="244" width="3" height="1" fill="#ff1493"/>
<rect x="652" y="244" width="3" height="1" fill="#ff1493"/>
<rect x="658" y="244" width="3" height="1" fill="#ff1493"/>
<rect x="664" y="244" width="3" height="1" fill="#ff1493"/>
<rect x="670" y="244" width="3" height="1" fill="#ff1493"/>
<rect x="676" y="244" width="3" height="1" fill="#ff1493"/>
<rect x="682" y="244" width="3" height="1" fill="#ff1493"/>
<rect x="688" y="244" width="3" height="1" fill="#ff1493"/>
<rect x="694" y="244" width="3" height="1" fill="#ff1493"/>
<rect x="700" y="244" width="3" height="1" fill="#ff1493"/>
<rect x="706" y="244" width="3" height="1" fill="#ff1493"/>
<rect x="712" y="244" width="3" height="1" fill="#ff1493"/>
<rect x="718" y="244" width="3" height="1" fill="#ff1493"/>
<rect x="724" y="244" width="3" height="1" fill="#ff1493"/>
<rect x="730" y="244" width="3" height="1" fill="#ff1493"/>
<rect x="736" y="244" width="3" height="1" fill="#ff1493"/>
<rect x="742" y="244" width="3" height="1" fill="#ff1493"/>
<rect x="748" y="244" width="3" height="1" fill="#ff1493"/>
<rect x="754" y="244" width="3" height="1" fill="#ff1493"/>
<rect x="4" y="270" width="3" height="1" fill="#ff1493"/>
<rect x="10" y="270" width="3" height="1" fill="#ff1493"/>
<rect x="16" y="270" width="3" height="1" fill="#ff1493"/>
<rect x="22" y="270" width="3" height="1" fill="#ff1493"/>
<rect x="28" y="270" width="3" height="1" fill="#ff1493"/>
<rect x="34" y="270" width="3" height="1" fill="#ff1493"/>
<rect x="40" y="270" width="3" height="1" fill="#ff1493"/>
<rect x="46" y="270" width="3" height="1" fill="#ff1493"/>
<rect x="52" y="270" width="3" height="1" fill="#ff1493"/>
<rect x="58" y="270" width="3" height="1" fill="#ff1493"/>
<rect x="64" y="270" width="3" height="1" fill="#ff1493"/>
<rect x="70" y="270" width="3" height="1" fill="#ff1493"/>
<rect x="76" y="270" width="3" height="1" fill="#ff1493"/>
<rect x="82" y="270" width="3" height="1" fill="#ff1493"/>
<rect x="88" y="270" width="3" height="1" fill="#ff1493"/>
<rect x="94" y="270" width="3" height="1" fill="#ff1493"/>
<rect x="100" y="270" width="3" height="1" fill="#ff1493"/>
<rect x="106" y="270" width="3" height="1" fill="#ff1493"/>
<rect x="112" y="270" width="3" height="1" fill="#ff1493"/>
<rect x="118" y="270" width="3" height="1" fill="#ff1493"/>
<rect x="124" y="270" width="3" height="1" fill="#ff1493"/>
<rect x="130" y="270" width="3" height="1" fill="#ff1493"/>
<rect x="136" y="270" width="3" height="1" fill="#ff1493"/>
<rect x="142" y="270" width="3" height="1" fill="#ff1493"/>
<rect x="148" y="270" width="3" height="1" fill="#ff1493"/>
<rect x="154" y="270" width="3" height="1" fill="#ff1493"/>
<rect x="160" y="270" width="3" height="1" fill="#ff1493"/>
<rect x="166" y="270" width="3" height="1" fill="#ff1493"/>
<rect x="172" y="270" width="3" height="1" fill="#ff1493"/>
<rect x="178" y="270" width="3" height="1" fill="#ff1493"/>
<rect x="184" y="270" width="3" height="1" fill="#ff1493"/>
<rect x="190" y="270" width="3" height="1" fill="#ff1493"/>
<rect x="196" y="270" width="3" height="1" fill="#ff1493"/>
<rect x="202" y="270" width="3" height="1" fill="#ff1493"/>
<rect x="208" y="270" width="3" height="1" fill="#ff1493"/>
<rect x="214" y="270" width="3" height="1" fill="#ff1493"/>
<rect x="220" y="270" width="3" height="1" fill="#ff1493"/>
<rect x="226" y="270" width="3" height="1" fill="#ff1493"/>
<rect x="232" y="270" width="3" height="1" fill="#ff1493"/>
<rect x="238" y="270" width="3" height="1" fill="#ff1493"/>
<rect x="244" y="270" width="3" height="1" fill="#ff1493"/>
<rect x="250" y="270" width="3" height="1" fill="#ff1493"/>
<rect x="256" y="270" width="3" height="1" fill="#ff1493"/>
<rect x="262" y="270" width="3" height="1" fill="#ff1493"/>
<rect x="268" y="270" width="3" height="1" fill="#ff1493"/>
<rect x="274" y="270" width="3" height="1" fill="#ff1493"/>
<rect x="280" y="270" width="3" height="1" fill="#ff1493"/>
<rect x="286" y="270" width="3" height="1" fill="#ff1493"/>
<rect x="292" y="270" width="3" height="1" fill="#ff1493"/>
<rect x="298" y="270" width="3" height="1" fill="#ff1493"/>
<rect x="304" y="270" width="3" height="1" fill="#ff1493"/>
<rect x="310" y="270" width="3" height="1" fill="#ff1493"/>
<rect x="316" y="270" width="3" height="1" fill="#ff1493"/>
<rect x="322" y="270" width="3" height="1" fill="#ff1493"/>
<rect x="328" y="270" width="3" height="1" fill="#ff1493"/>
<rect x="334" y="270" width="3" height="1" fill="#ff1493"/>
<rect x="340" y="270" width="3" height="1" fill="#ff1493"/>
<rect x="346" y="270" width="3" height="1" fill="#ff1493"/>
<rect x="352" y="270" width="3" height="1" fill="#ff1493"/>
<rect x="358" y="270" width="3" height="1" fill="#ff1493"/>
<rect x="364" y="270" width="3" height="1" fill="#ff1493"/>
<rect x="370" y="270" width="3" height="1" fill="#ff1493"/>
<rect x="376" y="270" width="3" height="1" fill="#ff1493"/>
<rect x="382" y="270" width="3" height="1" fill="#ff1493"/>
<rect x="388" y="270" width="3" height="1" fill="#ff1493"/>
<rect x="394" y="270" width="3" height="1" fill="#ff1493"/>
<rect x="400" y="270" width="3" height="1" fill="#ff1493"/>
<rect x="406" y="270" width="3" height="1" fill="#ff1493"/>
<rect x="412" y="270" width="3" height="1" fill="#ff1493"/>
<rect x="418" y="270" width="3" height="1" fill="#ff1493"/>
<rect x="424" y="270" width="3" height="1" fill="#ff1493"/>
<rect x="430" y="270" width="3" height="1" fill="#ff1493"/>
<rect x="436" y="270" width="3" height="1" fill="#ff1493"/>
<rect x="442" y="270" width="3" height="1" fill="#ff1493"/>
<rect x="448" y="270" width="3" height="1" fill="#ff1493"/>
<rect x="454" y="270" width="3" height="1" fill="#ff1493"/>
<rect x="460" y="270" width="3" height="1" fill="#ff1493"/>
<rect x="466" y="270" width="3" height="1" fill="#ff1493"/>
<rect x="472" y="270" width="3" height="1" fill="#ff1493"/>
<rect x="478" y="270" width="3" height="1" fill="#ff1493"/>
<rect x="484" y="270" width="3" height="1" fill="#ff1493"/>
<rect x="490" y="270" width="3" height="1" fill="#ff1493"/>
<rect x="496" y="270" width="3" height="1" fill="#ff1493"/>
<rect x="502" y="270" width="3" height="1" fill="#ff1493"/>
<rect x="508" y="270" width="3" height="1" fill="#ff1493"/>
<rect x="514" y="270" width="3" height="1" fill="#ff1493"/>
<rect x="520" y="270" width="3" height="1" fill="#ff1493"/>
<rect x="526" y="270" width="3" height="1" fill="#ff1493"/>
<rect x="532" y="270" width="3" height="1" fill="#ff1493"/>
<rect x="538" y="270" width="3" height="1" fill="#ff1493"/>
<rect x="544" y="270" width="3" height="1" fill="#ff1493"/>
<rect x="550" y="270" width="3" height="1" fill="#ff1493"/>
<rect x="556" y="270" width="3" height="1" fill="#ff1493"/>
<rect x="562" y="270" width="3" height="1" fill="#ff1493"/>
<rect x="568" y="270" width="3" height="1" fill="#ff1493"/>
<rect x="574" y="270" width="3" height="1" fill="#ff1493"/>
<rect x="580" y="270" width="3" height="1" fill="#ff1493"/>
<rect x="586" y="270" width="3" height="1" fill="#ff1493"/>
<rect x="592" y="270" width="3" height="1" fill="#ff1493"/>
<rect x="598" y="270" width="3" height="1" fill="#ff1493"/>
<rect x="604" y="270" width="3" height="1" fill="#ff1493"/>
<rect x="610" y="270" width="3" height="1" fill="#ff1493"/>
<rect x="616" y="270" width="3" height="1" fill="#ff1493"/>
<rect x="622" y="270" width="3" height="1" fill="#ff1493"/>
<rect x="628" y="270" width="3" height="1" fill="#ff1493"/>
<rect x="634" y="270" width="3" height="1" fill="#ff1493"/>
<rect x="640" y="270" width="3" height="1" fill="#ff1493"/>
<rect x="646" y="270" width="3" height="1" fill="#ff1493"/>
<rect x="652" y="270" width="3" height="1" fill="#ff1493"/>
<rect x="658" y="270" width="3" height="1" fill="#ff1493"/>
<rect x="664" y="270" width="3" height="1" fill="#ff1493"/>
<rect x="670" y="270" width="3" height="1" fill="#ff1493"/>
<rect x="676" y="270" width="3" height="1" fill="#ff1493"/>
<rect x="682" y="270" width="3" height="1" fill="#ff1493"/>
<rect x="688" y="270" width="3" height="1" fill="#ff1493"/>
<rect x="694" y="270" width="3" height="1" fill="#ff1493"/>
<rect x="700" y="270" width="3" height="1" fill="#ff1493"/>
<rect x="706" y="270" width="3" height="1" fill="#ff1493"/>
<rect x="712" y="270" width="3" height="1" fill="#ff1493"/>
<rect x="718" y="270" width="3" height="1" fill="#ff1493"/>
<rect x="724" y="270" width="3" height="1" fill="#ff1493"/>
<rect x="730" y="270" width="3" height="1" fill="#ff1493"/>
<rect x="736" y="270" width="3" height="1" fill="#ff1493"/>
<rect x="742" y="270" width="3" height="1" fill="#ff1493"/>
<rect x="748" y="270" width="3" height="1" fill="#ff1493"/>
<rect x="754" y="270" width="3" height="1" fill="#ff1493"/>
<path d="M361 302.5h4M357 303.5h4M365 303.5h4M355 304.5h2M369 304.5h4M354 305.5h1M373 305.5h2M19 306.5h9M353 306.5h1M375 306.5h3M17 307.5h2M28 307.5h2M352 307.5h1M378 307.5h3M505 307.5h6M15 308.5h2M30 308.5h2M351 308.5h1M381 308.5h2M501 308.5h4M511 308.5h5M14 309.5h1M32 309.5h2M350 309.5h1M383 309.5h3M497 309.5h4M516 309.5h1M12 310.5h2M34 310.5h2M349 310.5h1M386 310.5h2M493 310.5h4M517 310.5h1M11 311.5h1M36 311.5h1M348 311.5h1M388 311.5h2M491 311.5h2M518 311.5h1M10 312.5h1M37 312.5h1M347 312.5h1M390 312.5h1M490 312.5h1M519 312.5h1M9 313.5h1M37 313.5h1M347 313.5h1M391 313.5h2M489 313.5h1M520 313.5h1M8 314.5h1M38 314.5h1M154 314.5h2M346 314.5h1M393 314.5h2M489 314.5h1M521 314.5h1M7 315.5h1M39 315.5h1M151 315.5h3M156 315.5h1M346 315.5h1M395 315.5h1M488 315.5h1M522 315.5h1M591 315.5h8M7 316.5h1M40 316.5h1M149 316.5h2M157 316.5h1M345 316.5h1M396 316.5h2M487 316.5h1M523 316.5h1M587 316.5h4M599 316.5h6M6 317.5h1M41 317.5h1M147 317.5h2M158 317.5h1M345 317.5h1M398 317.5h2M486 317.5h1M523 317.5h1M586 317.5h1M605 317.5h2M5 318.5h1M41 318.5h1M146 318.5h1M159 318.5h1M344 318.5h1M400 318.5h2M485 318.5h1M524 318.5h1M585 318.5h1M607 318.5h3M4 319.5h1M42 319.5h1M145 319.5h1M159 319.5h1M344 319.5h1M402 319.5h2M485 319.5h1M524 319.5h1M584 319.5h1M610 319.5h2M3 320.5h1M43 320.5h1M144 320.5h1M160 320.5h1M343 320.5h1M404 320.5h1M484 320.5h1M525 320.5h1M583 320.5h1M612 320.5h1M44 321.5h1M143 321.5h1M161 321.5h1M343 321.5h1M405 321.5h2M483 321.5h1M525 321.5h1M582 321.5h1M613 321.5h1M44 322.5h1M142 322.5h1M162 322.5h1M343 322.5h1M407 322.5h1M482 322.5h1M526 322.5h1M581 322.5h1M614 322.5h1M45 323.5h1M141 323.5h1M163 323.5h1M342 323.5h1M408 323.5h1M482 323.5h1M526 323.5h1M580 323.5h1M615 323.5h1M45 324.5h1M140 324.5h1M163 324.5h1M342 324.5h1M409 324.5h2M481 324.5h1M527 324.5h1M579 324.5h1M615 324.5h1M46 325.5h1M139 325.5h1M164 325.5h1M341 325.5h1M411 325.5h1M443 325.5h2M481 325.5h1M527 325.5h1M578 325.5h1M616 325.5h1M46 326.5h1M138 326.5h1M164 326.5h1M341 326.5h1M412 326.5h2M442 326.5h1M445 326.5h4M480 326.5h1M528 326.5h1M577 326.5h1M617 326.5h1M47 327.5h1M138 327.5h1M165 327.5h1M340 327.5h1M414 327.5h1M441 327.5h1M449 327.5h3M479 327.5h1M528 327.5h1M576 327.5h1M618 327.5h1M47 328.5h1M137 328.5h1M165 328.5h1M340 328.5h1M415 328.5h2M439 328.5h2M452 328.5h1M479 328.5h1M529 328.5h1M575 328.5h1M619 328.5h1M48 329.5h1M136 329.5h1M166 329.5h1M339 329.5h1M417 329.5h2M438 329.5h1M453 329.5h1M478 329.5h1M529 329.5h1M574 329.5h1M620 329.5h1M48 330.5h1M136 330.5h1M166 330.5h1M339 330.5h1M419 330.5h1M437 330.5h1M454 330.5h1M477 330.5h1M530 330.5h1M573 330.5h1M620 330.5h1M49 331.5h1M135 331.5h1M167 331.5h1M338 331.5h1M420 331.5h2M436 331.5h1M455 331.5h1M477 331.5h1M530 331.5h1M572 331.5h1M621 331.5h1M49 332.5h1M134 332.5h1M167 332.5h1M338 332.5h1M422 332.5h1M434 332.5h2M456 332.5h1M476 332.5h1M531 332.5h1M571 332.5h1M621 332.5h1M50 333.5h1M134 333.5h1M167 333.5h1M291 333.5h2M337 333.5h1M423 333.5h2M431 333.5h3M457 333.5h1M476 333.5h1M531 333.5h1M570 333.5h1M622 333.5h1M50 334.5h1M133 334.5h1M168 334.5h1M289 334.5h2M293 334.5h4M337 334.5h1M425 334.5h2M429 334.5h2M458 334.5h1M475 334.5h1M532 334.5h1M569 334.5h1M622 334.5h1M51 335.5h1M132 335.5h1M168 335.5h1M287 335.5h2M297 335.5h3M336 335.5h1M427 335.5h2M459 335.5h1M473 335.5h2M532 335.5h1M568 335.5h1M623 335.5h1M52 336.5h1M132 336.5h1M169 336.5h1M286 336.5h1M300 336.5h1M336 336.5h1M460 336.5h2M472 336.5h1M533 336.5h1M567 336.5h1M624 336.5h1M52 337.5h1M131 337.5h1M169 337.5h1M284 337.5h2M301 337.5h1M335 337.5h1M462 337.5h1M471 337.5h1M534 337.5h1M566 337.5h1M624 337.5h1M53 338.5h1M130 338.5h1M170 338.5h1M283 338.5h1M302 338.5h1M335 338.5h1M463 338.5h2M469 338.5h2M535 338.5h1M565 338.5h1M625 338.5h1M53 339.5h1M129 339.5h1M170 339.5h1M282 339.5h1M303 339.5h1M334 339.5h1M465 339.5h2M468 339.5h1M535 339.5h1M564 339.5h1M625 339.5h1M54 340.5h1M129 340.5h1M171 340.5h1M282 340.5h1M303 340.5h1M334 340.5h1M467 340.5h1M536 340.5h1M562 340.5h2M626 340.5h1M54 341.5h1M128 341.5h1M171 341.5h1M281 341.5h1M304 341.5h1M333 341.5h1M537 341.5h1M559 341.5h3M626 341.5h1M55 342.5h1M127 342.5h1M172 342.5h1M280 342.5h1M305 342.5h1M333 342.5h1M538 342.5h1M557 342.5h2M627 342.5h1M55 343.5h1M126 343.5h1M172 343.5h1M279 343.5h1M306 343.5h1M332 343.5h1M538 343.5h1M555 343.5h2M628 343.5h1M56 344.5h1M125 344.5h1M173 344.5h1M279 344.5h1M307 344.5h1M332 344.5h1M539 344.5h1M554 344.5h1M628 344.5h1M56 345.5h1M125 345.5h1M173 345.5h1M278 345.5h1M308 345.5h1M331 345.5h1M540 345.5h1M553 345.5h1M629 345.5h1M674 345.5h2M57 346.5h1M124 346.5h1M174 346.5h1M277 346.5h1M309 346.5h1M330 346.5h1M541 346.5h1M552 346.5h1M629 346.5h1M672 346.5h2M676 346.5h1M57 347.5h1M123 347.5h1M175 347.5h1M276 347.5h1M310 347.5h1M330 347.5h1M542 347.5h1M551 347.5h1M630 347.5h1M670 347.5h2M677 347.5h2M58 348.5h1M121 348.5h2M175 348.5h1M276 348.5h1M311 348.5h2M329 348.5h1M543 348.5h2M550 348.5h1M630 348.5h1M668 348.5h2M679 348.5h1M58 349.5h1M120 349.5h1M176 349.5h1M275 349.5h1M313 349.5h1M328 349.5h1M545 349.5h1M549 349.5h1M631 349.5h1M667 349.5h1M680 349.5h1M59 350.5h1M119 350.5h1M177 350.5h1M273 350.5h2M314 350.5h1M327 350.5h1M546 350.5h1M548 350.5h1M631 350.5h1M666 350.5h1M681 350.5h2M59 351.5h1M117 351.5h2M177 351.5h1M272 351.5h1M315 351.5h1M327 351.5h1M547 351.5h1M632 351.5h1M666 351.5h1M683 351.5h1M60 352.5h1M95 352.5h8M116 352.5h1M178 352.5h1M271 352.5h1M316 352.5h2M326 352.5h1M632 352.5h1M665 352.5h1M684 352.5h2M61 353.5h1M91 353.5h4M103 353.5h13M178 353.5h1M247 353.5h6M269 353.5h2M318 353.5h1M325 353.5h1M633 353.5h1M664 353.5h1M686 353.5h1M61 354.5h1M89 354.5h2M179 354.5h1M243 354.5h4M253 354.5h4M268 354.5h1M319 354.5h2M324 354.5h1M633 354.5h1M663 354.5h1M687 354.5h2M62 355.5h1M88 355.5h1M180 355.5h1M242 355.5h1M257 355.5h11M321 355.5h2M324 355.5h1M634 355.5h1M663 355.5h1M689 355.5h2M63 356.5h1M87 356.5h1M181 356.5h1M241 356.5h1M323 356.5h1M634 356.5h1M662 356.5h1M691 356.5h1M64 357.5h1M85 357.5h2M182 357.5h1M239 357.5h2M635 357.5h1M661 357.5h1M692 357.5h2M65 358.5h1M84 358.5h1M183 358.5h1M238 358.5h1M636 358.5h1M660 358.5h1M694 358.5h2M705 358.5h3M65 359.5h1M82 359.5h2M184 359.5h1M237 359.5h1M636 359.5h1M660 359.5h1M696 359.5h2M701 359.5h4M66 360.5h1M79 360.5h3M185 360.5h1M236 360.5h1M637 360.5h1M659 360.5h1M698 360.5h3M67 361.5h4M77 361.5h2M186 361.5h1M191 361.5h5M235 361.5h1M637 361.5h1M658 361.5h1M71 362.5h6M187 362.5h4M196 362.5h2M234 362.5h1M638 362.5h1M657 362.5h1M198 363.5h1M233 363.5h1M639 363.5h1M656 363.5h1M199 364.5h2M231 364.5h2M639 364.5h1M655 364.5h1M201 365.5h2M230 365.5h1M640 365.5h1M655 365.5h1M203 366.5h1M229 366.5h1M641 366.5h1M654 366.5h1M204 367.5h2M228 367.5h1M641 367.5h1M653 367.5h1M206 368.5h2M227 368.5h1M642 368.5h1M652 368.5h1M208 369.5h2M225 369.5h2M642 369.5h1M647 369.5h5M210 370.5h3M223 370.5h2M643 370.5h4M213 371.5h2M222 371.5h1M215 372.5h3M220 372.5h2M218 373.5h2" stroke="#ff0000" stroke-width="1" fill="none"/>
<path d="M347 299.5h2M346 300.5h1M349 300.5h2M346 301.5h1M351 301.5h3M345 302.5h1M354 302.5h3M345 303.5h1M357 303.5h4M344 304.5h1M361 304.5h6M506 304.5h2M344 305.5h1M367 305.5h5M503 305.5h3M508 305.5h1M7 306.5h16M343 306.5h1M372 306.5h1M501 306.5h2M509 306.5h1M3 307.5h4M23 307.5h5M342 307.5h1M373 307.5h1M497 307.5h4M509 307.5h1M28 308.5h1M342 308.5h1M374 308.5h1M493 308.5h4M510 308.5h1M29 309.5h1M341 309.5h1M375 309.5h2M489 309.5h4M511 309.5h1M30 310.5h1M341 310.5h1M377 310.5h1M485 310.5h4M512 310.5h1M31 311.5h1M146 311.5h2M340 311.5h1M378 311.5h1M479 311.5h6M513 311.5h1M32 312.5h1M143 312.5h3M148 312.5h2M340 312.5h1M379 312.5h2M475 312.5h4M513 312.5h1M33 313.5h1M141 313.5h2M150 313.5h1M339 313.5h1M381 313.5h2M475 313.5h1M514 313.5h1M579 313.5h4M34 314.5h1M139 314.5h2M151 314.5h2M338 314.5h1M383 314.5h3M474 314.5h1M515 314.5h1M578 314.5h1M583 314.5h6M35 315.5h1M138 315.5h1M153 315.5h2M338 315.5h1M386 315.5h2M474 315.5h1M516 315.5h1M577 315.5h1M589 315.5h4M35 316.5h1M138 316.5h1M155 316.5h1M337 316.5h1M388 316.5h1M474 316.5h1M516 316.5h1M575 316.5h2M593 316.5h6M36 317.5h1M137 317.5h1M155 317.5h1M336 317.5h1M389 317.5h1M474 317.5h1M517 317.5h1M574 317.5h1M599 317.5h5M36 318.5h1M136 318.5h1M156 318.5h1M336 318.5h1M390 318.5h1M473 318.5h1M517 318.5h1M573 318.5h1M604 318.5h1M37 319.5h1M135 319.5h1M156 319.5h1M335 319.5h1M391 319.5h2M473 319.5h1M518 319.5h1M572 319.5h1M605 319.5h1M37 320.5h1M135 320.5h1M156 320.5h1M334 320.5h1M393 320.5h1M401 320.5h3M441 320.5h3M473 320.5h1M518 320.5h1M571 320.5h1M606 320.5h1M38 321.5h1M134 321.5h1M157 321.5h1M334 321.5h1M394 321.5h1M397 321.5h4M404 321.5h1M437 321.5h4M443 321.5h1M472 321.5h1M519 321.5h1M570 321.5h1M607 321.5h1M38 322.5h1M133 322.5h1M157 322.5h1M333 322.5h1M395 322.5h2M404 322.5h1M435 322.5h2M444 322.5h1M472 322.5h1M519 322.5h1M570 322.5h1M608 322.5h1M39 323.5h1M132 323.5h1M157 323.5h1M332 323.5h1M405 323.5h1M434 323.5h1M444 323.5h1M472 323.5h1M520 323.5h1M569 323.5h1M609 323.5h1M39 324.5h1M132 324.5h1M158 324.5h1M332 324.5h1M406 324.5h1M434 324.5h1M445 324.5h1M472 324.5h1M520 324.5h1M569 324.5h1M610 324.5h1M40 325.5h1M131 325.5h1M158 325.5h1M331 325.5h1M407 325.5h1M433 325.5h1M445 325.5h1M471 325.5h1M521 325.5h1M568 325.5h1M611 325.5h1M40 326.5h1M130 326.5h1M158 326.5h1M331 326.5h1M407 326.5h1M432 326.5h1M446 326.5h1M471 326.5h1M521 326.5h1M568 326.5h1M612 326.5h1M41 327.5h1M130 327.5h1M159 327.5h1M330 327.5h1M408 327.5h1M432 327.5h1M446 327.5h1M471 327.5h1M522 327.5h1M567 327.5h1M612 327.5h1M41 328.5h1M129 328.5h1M159 328.5h1M330 328.5h1M409 328.5h1M431 328.5h1M447 328.5h1M470 328.5h1M522 328.5h1M567 328.5h1M613 328.5h1M42 329.5h1M128 329.5h1M159 329.5h1M283 329.5h1M330 329.5h1M410 329.5h1M430 329.5h1M447 329.5h1M470 329.5h1M523 329.5h1M566 329.5h1M613 329.5h1M42 330.5h1M128 330.5h1M160 330.5h1M282 330.5h1M284 330.5h2M330 330.5h1M410 330.5h1M430 330.5h1M447 330.5h1M470 330.5h1M523 330.5h1M566 330.5h1M614 330.5h1M43 331.5h1M127 331.5h1M160 331.5h1M281 331.5h1M286 331.5h2M329 331.5h1M411 331.5h1M429 331.5h1M448 331.5h1M470 331.5h1M523 331.5h1M565 331.5h1M614 331.5h1M43 332.5h1M126 332.5h1M160 332.5h1M280 332.5h1M288 332.5h2M329 332.5h1M412 332.5h1M428 332.5h1M448 332.5h1M469 332.5h1M524 332.5h1M565 332.5h1M615 332.5h1M43 333.5h1M126 333.5h1M161 333.5h1M279 333.5h1M290 333.5h2M329 333.5h1M413 333.5h1M428 333.5h1M449 333.5h1M469 333.5h1M524 333.5h1M564 333.5h1M615 333.5h1M44 334.5h1M125 334.5h1M161 334.5h1M278 334.5h1M292 334.5h1M329 334.5h1M414 334.5h1M427 334.5h1M449 334.5h1M469 334.5h1M524 334.5h1M564 334.5h1M616 334.5h1M44 335.5h1M124 335.5h1M161 335.5h1M277 335.5h1M293 335.5h1M328 335.5h1M415 335.5h1M425 335.5h2M450 335.5h1M468 335.5h1M524 335.5h1M562 335.5h2M616 335.5h1M44 336.5h1M124 336.5h1M162 336.5h1M276 336.5h1M293 336.5h1M328 336.5h1M416 336.5h1M423 336.5h2M450 336.5h1M468 336.5h1M525 336.5h1M559 336.5h3M617 336.5h1M45 337.5h1M123 337.5h1M162 337.5h1M275 337.5h1M294 337.5h1M328 337.5h1M417 337.5h1M422 337.5h1M451 337.5h1M468 337.5h1M525 337.5h1M557 337.5h2M617 337.5h1M45 338.5h1M122 338.5h1M162 338.5h1M274 338.5h1M295 338.5h1M328 338.5h1M418 338.5h1M420 338.5h2M451 338.5h1M468 338.5h1M525 338.5h1M555 338.5h2M618 338.5h1M45 339.5h1M121 339.5h1M163 339.5h1M274 339.5h1M296 339.5h1M327 339.5h1M419 339.5h1M452 339.5h1M467 339.5h1M525 339.5h1M554 339.5h1M618 339.5h1M46 340.5h1M121 340.5h1M163 340.5h1M273 340.5h1M297 340.5h1M327 340.5h1M453 340.5h1M467 340.5h1M526 340.5h1M553 340.5h1M619 340.5h1M46 341.5h1M120 341.5h1M163 341.5h1M273 341.5h1M297 341.5h1M327 341.5h1M453 341.5h1M466 341.5h1M526 341.5h1M552 341.5h1M619 341.5h1M46 342.5h1M119 342.5h1M164 342.5h1M272 342.5h1M298 342.5h1M326 342.5h1M454 342.5h1M465 342.5h1M526 342.5h1M551 342.5h1M620 342.5h1M47 343.5h1M118 343.5h1M164 343.5h1M271 343.5h1M299 343.5h1M326 343.5h1M455 343.5h1M464 343.5h1M526 343.5h1M551 343.5h1M620 343.5h1M659 343.5h2M47 344.5h1M117 344.5h1M164 344.5h1M271 344.5h1M300 344.5h1M326 344.5h1M456 344.5h1M463 344.5h1M527 344.5h1M550 344.5h1M621 344.5h1M659 344.5h1M661 344.5h4M47 345.5h1M117 345.5h1M165 345.5h1M270 345.5h1M300 345.5h1M326 345.5h1M457 345.5h1M462 345.5h1M527 345.5h1M539 345.5h2M549 345.5h1M621 345.5h1M658 345.5h1M665 345.5h4M48 346.5h1M116 346.5h1M165 346.5h1M269 346.5h1M301 346.5h1M325 346.5h1M457 346.5h1M461 346.5h1M527 346.5h1M538 346.5h1M541 346.5h4M548 346.5h1M621 346.5h1M658 346.5h1M669 346.5h4M48 347.5h1M115 347.5h1M166 347.5h1M269 347.5h1M301 347.5h1M325 347.5h1M458 347.5h1M460 347.5h1M528 347.5h1M538 347.5h1M545 347.5h3M622 347.5h1M657 347.5h1M673 347.5h3M48 348.5h1M114 348.5h1M166 348.5h1M268 348.5h1M302 348.5h1M325 348.5h1M459 348.5h1M528 348.5h1M537 348.5h1M622 348.5h1M657 348.5h1M676 348.5h1M49 349.5h1M90 349.5h2M113 349.5h1M166 349.5h1M268 349.5h1M302 349.5h1M325 349.5h1M528 349.5h1M537 349.5h1M623 349.5h1M656 349.5h1M676 349.5h1M49 350.5h1M87 350.5h3M92 350.5h2M113 350.5h1M167 350.5h1M241 350.5h3M267 350.5h1M303 350.5h1M324 350.5h1M528 350.5h1M536 350.5h1M623 350.5h1M656 350.5h1M677 350.5h1M49 351.5h1M85 351.5h2M94 351.5h2M112 351.5h1M167 351.5h1M237 351.5h4M244 351.5h2M266 351.5h1M303 351.5h1M324 351.5h1M529 351.5h1M536 351.5h1M623 351.5h1M655 351.5h1M678 351.5h1M50 352.5h1M83 352.5h2M96 352.5h2M111 352.5h1M167 352.5h1M235 352.5h2M246 352.5h1M265 352.5h1M304 352.5h1M324 352.5h1M529 352.5h1M535 352.5h1M624 352.5h1M655 352.5h1M678 352.5h1M50 353.5h1M81 353.5h2M98 353.5h2M110 353.5h1M168 353.5h1M234 353.5h1M247 353.5h2M265 353.5h1M304 353.5h1M324 353.5h1M529 353.5h1M535 353.5h1M624 353.5h1M654 353.5h1M679 353.5h1M50 354.5h1M80 354.5h1M100 354.5h2M109 354.5h1M168 354.5h1M233 354.5h1M249 354.5h2M264 354.5h1M305 354.5h1M323 354.5h1M529 354.5h1M534 354.5h1M625 354.5h1M654 354.5h1M680 354.5h1M707 354.5h1M51 355.5h1M79 355.5h1M102 355.5h2M109 355.5h1M168 355.5h1M232 355.5h1M251 355.5h1M263 355.5h1M305 355.5h1M319 355.5h5M530 355.5h1M534 355.5h1M625 355.5h1M653 355.5h1M680 355.5h1M705 355.5h2M51 356.5h1M77 356.5h2M104 356.5h2M108 356.5h1M169 356.5h1M231 356.5h1M252 356.5h2M262 356.5h1M306 356.5h1M313 356.5h6M530 356.5h1M533 356.5h1M625 356.5h1M653 356.5h1M681 356.5h1M704 356.5h1M52 357.5h1M76 357.5h1M106 357.5h2M169 357.5h1M231 357.5h1M254 357.5h1M261 357.5h1M306 357.5h1M309 357.5h4M530 357.5h1M533 357.5h1M626 357.5h1M652 357.5h1M682 357.5h1M703 357.5h1M53 358.5h2M75 358.5h1M170 358.5h1M230 358.5h1M255 358.5h2M261 358.5h1M307 358.5h2M530 358.5h1M532 358.5h1M626 358.5h1M652 358.5h1M682 358.5h1M701 358.5h2M55 359.5h1M74 359.5h1M170 359.5h1M229 359.5h1M257 359.5h2M260 359.5h1M531 359.5h2M627 359.5h1M651 359.5h1M683 359.5h2M700 359.5h1M56 360.5h1M73 360.5h1M170 360.5h1M228 360.5h1M259 360.5h1M531 360.5h1M627 360.5h1M651 360.5h1M685 360.5h4M695 360.5h5M57 361.5h2M71 361.5h2M171 361.5h1M175 361.5h8M227 361.5h1M628 361.5h1M651 361.5h1M689 361.5h6M59 362.5h2M70 362.5h1M171 362.5h4M183 362.5h13M226 362.5h1M629 362.5h1M650 362.5h1M61 363.5h2M69 363.5h1M196 363.5h1M225 363.5h1M629 363.5h1M650 363.5h1M63 364.5h3M68 364.5h1M196 364.5h1M224 364.5h1M630 364.5h1M649 364.5h1M66 365.5h2M197 365.5h1M223 365.5h1M631 365.5h1M649 365.5h1M197 366.5h1M223 366.5h1M632 366.5h1M648 366.5h1M198 367.5h1M222 367.5h1M633 367.5h1M648 367.5h1M198 368.5h1M221 368.5h1M633 368.5h1M647 368.5h1M199 369.5h1M220 369.5h1M634 369.5h1M647 369.5h1M200 370.5h1M217 370.5h3M635 370.5h1M646 370.5h1M200 371.5h1M213 371.5h4M636 371.5h1M646 371.5h1M201 372.5h1M210 372.5h3M637 372.5h1M645 372.5h1M201 373.5h1M208 373.5h2M638 373.5h1M645 373.5h1M202 374.5h1M206 374.5h2M639 374.5h2M644 374.5h1M202 375.5h1M204 375.5h2M641 375.5h1M644 375.5h1M203 376.5h1M642 376.5h2M643 377.5h1" stroke="#20b2aa" stroke-width="1" fill="none"/>
<rect x="4" y="341" width="3" height="1" fill="#ffff00"/>
<rect x="10" y="341" width="3" height="1" fill="#ffff00"/>
<rect x="16" y="341" width="3" height="1" fill="#ffff00"/>
<rect x="22" y="341" width="3" height="1" fill="#ffff00"/>
<rect x="28" y="341" width="3" height="1" fill="#ffff00"/>
<rect x="34" y="341" width="3" height="1" fill="#ffff00"/>
<rect x="40" y="341" width="3" height="1" fill="#ffff00"/>
<rect x="46" y="341" width="3" height="1" fill="#ffff00"/>
<rect x="52" y="341" width="3" height="1" fill="#ffff00"/>
<rect x="58" y="341" width="3" height="1" fill="#ffff00"/>
<rect x="64" y="341" width="3" height="1" fill="#ffff00"/>
<rect x="70" y="341" width="3" height="1" fill="#ffff00"/>
<rect x="76" y="341" width="3" height="1" fill="#ffff00"/>
<rect x="82" y="341" width="3" height="1" fill="#ffff00"/>
<rect x="88" y="341" width="3" height="1" fill="#ffff00"/>
<rect x="94" y="341" width="3" height="1" fill="#ffff00"/>
<rect x="100" y="341" width="3" height="1" fill="#ffff00"/>
<rect x="106" y="341" width="3" height="1" fill="#ffff00"/>
<rect x="112" y="341" width="3" height="1" fill="#ffff00"/>
<rect x="118" y="341" width="3" height="1" fill="#ffff00"/>
<rect x="124" y="341" width="3" height="1" fill="#ffff00"/>
<rect x="130" y="341" width="3" height="1" fill="#ffff00"/>
<rect x="136" y="341" width="3" height="1" fill="#ffff00"/>
<rect x="142" y="341" width="3" height="1" fill="#ffff00"/>
<rect x="148" y="341" width="3" height="1" fill="#ffff00"/>
<rect x="154" y="341" width="3" height="1" fill="#ffff00"/>
<rect x="160" y="341" width="3" height="1" fill="#ffff00"/>
<rect x="166" y="341" width="3" height="1" fill="#ffff00"/>
<rect x="172" y="341" width="3" height="1" fill="#ffff00"/>
<rect x="178" y="341" width="3" height="1" fill="#ffff00"/>
<rect x="184" y="341" width="3" height="1" fill="#ffff00"/>
<rect x="190" y="341" width="3" height="1" fill="#ffff00"/>
<rect x="196" y="341" width="3" height="1" fill="#ffff00"/>
<rect x="202" y="341" width="3" height="1" fill="#ffff00"/>
<rect x="208" y="341" width="3" height="1" fill="#ffff00"/>
<rect x="214" y="341" width="3" height="1" fill="#ffff00"/>
<rect x="220" y="341" width="3" height="1" fill="#ffff00"/>
<rect x="226" y="341" width="3" height="1" fill="#ffff00"/>
<rect x="232" y="341" width="3" height="1" fill="#ffff00"/>
<rect x="238" y="341" width="3" height="1" fill="#ffff00"/>
<rect x="244" y="341" width="3" height="1" fill="#ffff00"/>
<rect x="250" y="341" width="3" height="1" fill="#ffff00"/>
<rect x="256" y="341" width="3" height="1" fill="#ffff00"/>
<rect x="262" y="341" width="3" height="1" fill="#ffff00"/>
<rect x="268" y="341" width="3" height="1" fill="#ffff00"/>
<rect x="274" y="341" width="3" height="1" fill="#ffff00"/>
<rect x="280" y="341" width="3" height="1" fill="#ffff00"/>
<rect x="286" y="341" width="3" height="1" fill="#ffff00"/>
<rect x="292" y="341" width="3" height="1" fill="#ffff00"/>
<rect x="298" y="341" width="3" height="1" fill="#ffff00"/>
<rect x="304" y="341" width="3" height="1" fill="#ffff00"/>
<rect x="310" y="341" width="3" height="1" fill="#ffff00"/>
<rect x="316" y="341" width="3" height="1" fill="#ffff00"/>
<rect x="322" y="341" width="3" height="1" fill="#ffff00"/>
<rect x="328" y="341" width="3" height="1" fill="#ffff00"/>
<rect x="334" y="341" width="3" height="1" fill="#ffff00"/>
<rect x="340" y="341" width="3" height="1" fill="#ffff00"/>
<rect x="346" y="341" width="3" height="1" fill="#ffff00"/>
<rect x="352" y="341" width="3" height="1" fill="#ffff00"/>
<rect x="358" y="341" width="3" height="1" fill="#ffff00"/>
<rect x="364" y="341" width="3" height="1" fill="#ffff00"/>
<rect x="370" y="341" width="3" height="1" fill="#ffff00"/>
<rect x="376" y="341" width="3" height="1" fill="#ffff00"/>
<rect x="382" y="341" width="3" height="1" fill="#ffff00"/>
<rect x="388" y="341" width="3" height="1" fill="#ffff00"/>
<rect x="394" y="341" width="3" height="1" fill="#ffff00"/>
<rect x="400" y="341" width="3" height="1" fill="#ffff00"/>
<rect x="406" y="341" width="3" height="1" fill="#ffff00"/>
<rect x="412" y="341" width="3" height="1" fill="#ffff00"/>
<rect x="418" y="341" width="3" height="1" fill="#ffff00"/>
<rect x="424" y="341" width="3" height="1" fill="#ffff00"/>
<rect x="430" y="341" width="3" height="1" fill="#ffff00"/>
<rect x="436" y="341" width="3" height="1" fill="#ffff00"/>
<rect x="442" y="341" width="3" height="1" fill="#ffff00"/>
<rect x="448" y="341" width="3" height="1" fill="#ffff00"/>
<rect x="454" y="341" width="3" height="1" fill="#ffff00"/>
<rect x="460" y="341" width="3" height="1" fill="#ffff00"/>
<rect x="466" y="341" width="3" height="1" fill="#ffff00"/>
<rect x="472" y="341" width="3" height="1" fill="#ffff00"/>
<rect x="478" y="341" width="3" height="1" fill="#ffff00"/>
<rect x="484" y="341" width="3" height="1" fill="#ffff00"/>
<rect x="490" y="341" width="3" height="1" fill="#ffff00"/>
<rect x="496" y="341" width="3" height="1" fill="#ffff00"/>
<rect x="502" y="341" width="3" height="1" fill="#ffff00"/>
<rect x="508" y="341" width="3" height="1" fill="#ffff00"/>
<rect x="514" y="341" width="3" height="1" fill="#ffff00"/>
<rect x="520" y="341" width="3" height="1" fill="#ffff00"/>
<rect x="526" y="341" width="3" height="1" fill="#ffff00"/>
<rect x="532" y="341" width="3" height="1" fill="#ffff00"/>
<rect x="538" y="341" width="3" height="1" fill="#ffff00"/>
<rect x="544" y="341" width="3" height="1" fill="#ffff00"/>
<rect x="550" y="341" width="3" height="1" fill="#ffff00"/>
<rect x="556" y="341" width="3" height="1" fill="#ffff00"/>
<rect x="562" y="341" width="3" height="1" fill="#ffff00"/>
<rect x="568" y="341" width="3" height="1" fill="#ffff00"/>
<rect x="574" y="341" width="3" height="1" fill="#ffff00"/>
<rect x="580" y="341" width="3" height="1" fill="#ffff00"/>
<rect x="586" y="341" width="3" height="1" fill="#ffff00"/>
<rect x="592" y="341" width="3" height="1" fill="#ffff00"/>
<rect x="598" y="341" width="3" height="1" fill="#ffff00"/>
<rect x="604" y="341" width="3" height="1" fill="#ffff00"/>
<rect x="610" y="341" width="3" height="1" fill="#ffff00"/>
<rect x="616" y="341" width="3" height="1" fill="#ffff00"/>
<rect x="622" y="341" width="3" height="1" fill="#ffff00"/>
<rect x="628" y="341" width="3" height="1" fill="#ffff00"/>
<rect x="634" y="341" width="3" height="1" fill="#ffff00"/>
<rect x="640" y="341" width="3" height="1" fill="#ffff00"/>
<rect x="646" y="341" width="3" height="1" fill="#ffff00"/>
<rect x="652" y="341" width="3" height="1" fill="#ffff00"/>
<rect x="658" y="341" width="3" height="1" fill="#ffff00"/>
<rect x="664" y="341" width="3" height="1" fill="#ffff00"/>
<rect x="670" y="341" width="3" height="1" fill="#ffff00"/>
<rect x="676" y="341" width="3" height="1" fill="#ffff00"/>
<rect x="682" y="341" width="3" height="1" fill="#ffff00"/>
<rect x="688" y="341" width="3" height="1" fill="#ffff00"/>
<rect x="694" y="341" width="3" height="1" fill="#ffff00"/>
<rect x="700" y="341" width="3" height="1" fill="#ffff00"/>
<rect x="706" y="341" width="3" height="1" fill="#ffff00"/>
<rect x="712" y="341" width="3" height="1" fill="#ffff00"/>
<rect x="718" y="341" width="3" height="1" fill="#ffff00"/>
<rect x="724" y="341" width="3" height="1" fill="#ffff00"/>
<rect x="730" y="341" width="3" height="1" fill="#ffff00"/>
<rect x="736" y="341" width="3" height="1" fill="#ffff00"/>
<rect x="742" y="341" width="3" height="1" fill="#ffff00"/>
<rect x="748" y="341" width="3" height="1" fill="#ffff00"/>
<rect x="754" y="341" width="3" height="1" fill="#ffff00"/>
<rect x="3" y="397" width="1" height="63" fill="#c0c0c0"/>
<rect x="11" y="397" width="1" height="63" fill="#c0c0c0"/>
<rect x="19" y="398" width="1" height="62" fill="#c0c0c0"/>
<rect x="27" y="399" width="1" height="61" fill="#c0c0c0"/>
<rect x="35" y="401" width="1" height="59" fill="#c0c0c0"/>
<rect x="43" y="404" width="1" height="56" fill="#c0c0c0"/>
<rect x="51" y="409" width="1" height="51" fill="#c0c0c0"/>
<rect x="59" y="413" width="1" height="47" fill="#c0c0c0"/>
<rect x="67" y="417" width="1" height="43" fill="#c0c0c0"/>
<rect x="75" y="420" width="1" height="40" fill="#c0c0c0"/>
<rect x="83" y="424" width="1" height="36" fill="#c0c0c0"/>
<rect x="91" y="427" width="1" height="33" fill="#c0c0c0"/>
<rect x="99" y="432" width="1" height="28" fill="#c0c0c0"/>
<rect x="107" y="439" width="1" height="21" fill="#c0c0c0"/>
<rect x="115" y="442" width="1" height="18" fill="#c0c0c0"/>
<rect x="123" y="444" width="1" height="16" fill="#c0c0c0"/>
<rect x="131" y="441" width="1" height="19" fill="#c0c0c0"/>
<rect x="139" y="437" width="1" height="23" fill="#c0c0c0"/>
<rect x="147" y="433" width="1" height="27" fill="#c0c0c0"/>
<rect x="155" y="435" width="1" height="25" fill="#c0c0c0"/>
<rect x="163" y="439" width="1" height="21" fill="#c0c0c0"/>
<rect x="171" y="440" width="1" height="20" fill="#c0c0c0"/>
<rect x="179" y="440" width="1" height="20" fill="#c0c0c0"/>
<rect x="187" y="444" width="1" height="16" fill="#c0c0c0"/>
<rect x="195" y="447" width="1" height="13" fill="#c0c0c0"/>
<rect x="203" y="455" width="1" height="5" fill="#c0c0c0"/>
<rect x="211" y="459" width="1" height="1" fill="#c0c0c0"/>
<rect x="219" y="459" width="1" height="5" fill="#c0c0c0"/>
<rect x="227" y="459" width="1" height="7" fill="#c0c0c0"/>
<rect x="235" y="459" width="1" height="10" fill="#c0c0c0"/>
<rect x="243" y="459" width="1" height="13" fill="#c0c0c0"/>
<rect x="251" y="459" width="1" height="15" fill="#c0c0c0"/>
<rect x="259" y="459" width="1" height="17" fill="#c0c0c0"/>
<rect x="267" y="459" width="1" height="17" fill="#c0c0c0"/>
<rect x="275" y="459" width="1" height="16" fill="#c0c0c0"/>
<rect x="283" y="459" width="1" height="16" fill="#c0c0c0"/>
<rect x="291" y="459" width="1" height="16" fill="#c0c0c0"/>
<rect x="299" y="459" width="1" height="16" fill="#c0c0c0"/>
<rect x="307" y="459" width="1" height="19" fill="#c0c0c0"/>
<rect x="315" y="459" width="1" height="19" fill="#c0c0c0"/>
<rect x="323" y="459" width="1" height="21" fill="#c0c0c0"/>
<rect x="331" y="459" width="1" height="12" fill="#c0c0c0"/>
<rect x="339" y="459" width="1" height="6" fill="#c0c0c0"/>
<rect x="347" y="458" width="1" height="2" fill="#c0c0c0"/>
<rect x="355" y="449" width="1" height="11" fill="#c0c0c0"/>
<rect x="363" y="438" width="1" height="22" fill="#c0c0c0"/>
<rect x="371" y="428" width="1" height="32" fill="#c0c0c0"/>
<rect x="379" y="424" width="1" height="36" fill="#c0c0c0"/>
<rect x="387" y="419" width="1" height="41" fill="#c0c0c0"/>
<rect x="395" y="415" width="1" height="45" fill="#c0c0c0"/>
<rect x="403" y="413" width="1" height="47" fill="#c0c0c0"/>
<rect x="411" y="413" width="1" height="47" fill="#c0c0c0"/>
<rect x="419" y="414" width="1" height="46" fill="#c0c0c0"/>
<rect x="427" y="413" width="1" height="47" fill="#c0c0c0"/>
<rect x="435" y="412" width="1" height="48" fill="#c0c0c0"/>
<rect x="443" y="415" width="1" height="45" fill="#c0c0c0"/>
<rect x="451" y="417" width="1" height="43" fill="#c0c0c0"/>
<rect x="459" y="418" width="1" height="42" fill="#c0c0c0"/>
<rect x="467" y="419" width="1" height="41" fill="#c0c0c0"/>
<rect x="475" y="412" width="1" height="48" fill="#c0c0c0"/>
<rect x="483" y="409" width="1" height="51" fill="#c0c0c0"/>
<rect x="491" y="405" width="1" height="55" fill="#c0c0c0"/>
<rect x="499" y="401" width="1" height="59" fill="#c0c0c0"/>
<rect x="507" y="400" width="1" height="60" fill="#c0c0c0"/>
<rect x="515" y="402" width="1" height="58" fill="#c0c0c0"/>
<rect x="523" y="402" width="1" height="58" fill="#c0c0c0"/>
<rect x="531" y="405" width="1" height="55" fill="#c0c0c0"/>
<rect x="539" y="406" width="1" height="54" fill="#c0c0c0"/>
<rect x="547" y="409" width="1" height="51" fill="#c0c0c0"/>
<rect x="555" y="411" width="1" height="49" fill="#c0c0c0"/>
<rect x="563" y="412" width="1" height="48" fill="#c0c0c0"/>
<rect x="571" y="411" width="1" height="49" fill="#c0c0c0"/>
<rect x="579" y="412" width="1" height="48" fill="#c0c0c0"/>
<rect x="587" y="412" width="1" height="48" fill="#c0c0c0"/>
<rect x="595" y="412" width="1" height="48" fill="#c0c0c0"/>
<rect x="603" y="414" width="1" height="46" fill="#c0c0c0"/>
<rect x="611" y="415" width="1" height="45" fill="#c0c0c0"/>
<rect x="619" y="418" width="1" height="42" fill="#c0c0c0"/>
<rect x="627" y="422" width="1" height="38" fill="#c0c0c0"/>
<rect x="635" y="426" width="1" height="34" fill="#c0c0c0"/>
<rect x="643" y="430" width="1" height="30" fill="#c0c0c0"/>
<rect x="651" y="431" width="1" height="29" fill="#c0c0c0"/>
<rect x="659" y="433" width="1" height="27" fill="#c0c0c0"/>
<rect x="667" y="437" width="1" height="23" fill="#c0c0c0"/>
<rect x="675" y="438" width="1" height="22" fill="#c0c0c0"/>
<rect x="683" y="442" width="1" height="18" fill="#c0c0c0"/>
<rect x="691" y="446" width="1" height="14" fill="#c0c0c0"/>
<rect x="699" y="447" width="1" height="13" fill="#c0c0c0"/>
<rect x="707" y="448" width="1" height="12" fill="#c0c0c0"/>
<path d="M3 398.5h3M9 398.5h3M15 398.5h3M21 398.5h3M27 398.5h3M33 398.5h3M39 398.5h3M45 398.5h3M51 399.5h3M57 400.5h1M58 401.5h2M63 402.5h3M69 403.5h1M543 403.5h3M549 403.5h3M555 403.5h3M70 404.5h2M537 404.5h3M561 404.5h3M567 404.5h1M75 405.5h2M533 405.5h1M568 405.5h2M77 406.5h1M527 406.5h1M531 406.5h2M573 406.5h2M81 407.5h1M519 407.5h3M525 407.5h2M575 407.5h1M579 407.5h3M82 408.5h2M513 408.5h3M585 408.5h3M509 409.5h1M591 409.5h3M597 409.5h2M87 410.5h3M507 410.5h2M599 410.5h1M603 410.5h3M495 411.5h3M501 411.5h3M609 411.5h3M93 412.5h2M489 412.5h3M615 412.5h3M621 412.5h2M95 413.5h1M447 413.5h3M453 413.5h3M459 413.5h3M483 413.5h3M623 413.5h1M627 413.5h2M99 414.5h1M441 414.5h3M465 414.5h3M471 414.5h3M477 414.5h3M629 414.5h1M100 415.5h2M437 415.5h1M633 415.5h3M435 416.5h2M639 416.5h3M431 417.5h1M645 417.5h2M105 418.5h2M429 418.5h2M647 418.5h1M107 419.5h1M651 419.5h2M425 420.5h1M653 420.5h1M111 421.5h1M423 421.5h2M657 421.5h3M112 422.5h2M663 423.5h3M117 424.5h1M418 424.5h2M118 425.5h1M417 425.5h1M669 425.5h2M119 426.5h1M413 426.5h1M671 426.5h1M411 427.5h2M675 427.5h2M123 428.5h2M677 428.5h1M125 429.5h1M681 429.5h1M129 430.5h1M407 430.5h1M682 430.5h2M130 431.5h2M406 431.5h1M135 432.5h3M141 432.5h2M405 432.5h1M687 432.5h3M143 433.5h1M147 433.5h2M149 434.5h1M693 434.5h2M153 435.5h3M695 435.5h1M159 436.5h2M401 436.5h1M699 436.5h2M161 437.5h1M165 437.5h2M399 437.5h2M701 437.5h1M167 438.5h1M171 438.5h3M177 438.5h3M183 438.5h3M189 438.5h3M195 438.5h2M705 438.5h3M197 439.5h1M201 440.5h3M207 441.5h2M395 441.5h1M209 442.5h1M393 442.5h2M213 443.5h2M215 444.5h1M219 445.5h1M389 445.5h1M220 446.5h2M388 446.5h1M387 447.5h1M225 448.5h1M226 449.5h2M383 450.5h1M231 451.5h1M382 451.5h1M232 452.5h2M381 452.5h1M237 454.5h1M238 455.5h2M377 456.5h1M243 457.5h2M375 457.5h2M245 458.5h1M249 459.5h1M250 460.5h2M370 461.5h2M255 462.5h3M369 462.5h1M261 464.5h2M364 464.5h2M263 465.5h1M363 465.5h1M267 466.5h2M269 467.5h1M273 468.5h3M359 468.5h1M357 469.5h2M279 470.5h3M285 471.5h2M353 471.5h1M287 472.5h1M291 472.5h3M351 472.5h2M297 473.5h3M345 473.5h3M303 474.5h2M341 474.5h1M305 475.5h1M309 475.5h2M335 475.5h1M339 475.5h2M311 476.5h1M315 476.5h3M321 476.5h3M327 476.5h3M333 476.5h2" stroke="#ff0000" stroke-width="1" fill="none"/>
<rect x="761" y="459" width="1" height="1" fill="#fff"/>
<rect x="3" y="554" width="3" height="2" fill="#1e90ff"/>
<rect x="9" y="554" width="5" height="2" fill="#1e90ff"/>
<rect x="17" y="555" width="5" height="1" fill="#1e90ff"/>
<rect x="25" y="556" width="5" height="1" fill="#0000ff"/>
<rect x="33" y="556" width="5" height="3" fill="#0000ff"/>
<rect x="41" y="556" width="5" height="5" fill="#0000ff"/>
<rect x="49" y="556" width="5" height="8" fill="#0000ff"/>
<rect x="57" y="556" width="5" height="10" fill="#0000ff"/>
<rect x="65" y="556" width="5" height="11" fill="#0000ff"/>
<rect x="73" y="556" width="5" height="12" fill="#0000ff"/>
<rect x="81" y="556" width="5" height="12" fill="#0000ff"/>
<rect x="89" y="556" width="5" height="13" fill="#0000ff"/>
<rect x="97" y="556" width="5" height="14" fill="#0000ff"/>
<rect x="105" y="556" width="5" height="15" fill="#0000ff"/>
<rect x="113" y="556" width="5" height="15" fill="#0000ff"/>
<rect x="121" y="556" width="5" height="15" fill="#0000ff"/>
<rect x="129" y="556" width="5" height="10" fill="#0000ff"/>
<rect x="137" y="556" width="5" height="4" fill="#0000ff"/>
<rect x="145" y="556" width="5" height="1" fill="#0000ff"/>
<rect x="153" y="556" width="5" height="2" fill="#0000ff"/>
<rect x="161" y="556" width="5" height="5" fill="#0000ff"/>
<rect x="169" y="556" width="5" height="5" fill="#0000ff"/>
<rect x="177" y="556" width="5" height="4" fill="#0000ff"/>
<rect x="185" y="556" width="5" height="6" fill="#0000ff"/>
<rect x="193" y="556" width="5" height="8" fill="#0000ff"/>
<rect x="201" y="556" width="5" height="13" fill="#0000ff"/>
<rect x="209" y="556" width="5" height="15" fill="#0000ff"/>
<rect x="217" y="556" width="5" height="15" fill="#0000ff"/>
<rect x="225" y="556" width="5" height="15" fill="#0000ff"/>
<rect x="233" y="556" width="5" height="13" fill="#0000ff"/>
<rect x="241" y="556" width="5" height="13" fill="#0000ff"/>
<rect x="249" y="556" width="5" height="13" fill="#0000ff"/>
<rect x="257" y="556" width="5" height="12" fill="#0000ff"/>
<rect x="265" y="556" width="5" height="8" fill="#0000ff"/>
<rect x="273" y="556" width="5" height="7" fill="#0000ff"/>
<rect x="281" y="556" width="5" height="6" fill="#0000ff"/>
<rect x="289" y="556" width="5" height="5" fill="#0000ff"/>
<rect x="297" y="556" width="5" height="4" fill="#0000ff"/>
<rect x="305" y="556" width="5" height="6" fill="#0000ff"/>
<rect x="313" y="556" width="5" height="5" fill="#0000ff"/>
<rect x="321" y="556" width="5" height="6" fill="#0000ff"/>
<rect x="329" y="553" width="5" height="3" fill="#1e90ff"/>
<rect x="337" y="548" width="5" height="8" fill="#1e90ff"/>
<rect x="345" y="544" width="5" height="12" fill="#1e90ff"/>
<rect x="353" y="538" width="5" height="18" fill="#1e90ff"/>
<rect x="361" y="533" width="5" height="23" fill="#1e90ff"/>
<rect x="369" y="530" width="5" height="26" fill="#1e90ff"/>
<rect x="377" y="532" width="5" height="24" fill="#1e90ff"/>
<rect x="385" y="532" width="5" height="24" fill="#1e90ff"/>
<rect x="393" y="533" width="5" height="23" fill="#1e90ff"/>
<rect x="401" y="537" width="5" height="19" fill="#1e90ff"/>
<rect x="409" y="541" width="5" height="15" fill="#1e90ff"/>
<rect x="417" y="544" width="5" height="12" fill="#1e90ff"/>
<rect x="425" y="546" width="5" height="10" fill="#1e90ff"/>
<rect x="433" y="547" width="5" height="9" fill="#1e90ff"/>
<rect x="441" y="550" width="5" height="6" fill="#1e90ff"/>
<rect x="449" y="554" width="5" height="2" fill="#1e90ff"/>
<rect x="457" y="555" width="5" height="1" fill="#1e90ff"/>
<rect x="465" y="556" width="5" height="1" fill="#0000ff"/>
<rect x="473" y="550" width="5" height="6" fill="#1e90ff"/>
<rect x="481" y="549" width="5" height="7" fill="#1e90ff"/>
<rect x="489" y="547" width="5" height="9" fill="#1e90ff"/>
<rect x="497" y="546" width="5" height="10" fill="#1e90ff"/>
<rect x="505" y="547" width="5" height="9" fill="#1e90ff"/>
<rect x="513" y="550" width="5" height="6" fill="#1e90ff"/>
<rect x="521" y="551" width="5" height="5" fill="#1e90ff"/>
<rect x="529" y="555" width="5" height="1" fill="#1e90ff"/>
<rect x="537" y="555" width="5" height="1" fill="#1e90ff"/>
<rect x="545" y="556" width="5" height="3" fill="#0000ff"/>
<rect x="553" y="556" width="5" height="4" fill="#0000ff"/>
<rect x="561" y="556" width="5" height="4" fill="#0000ff"/>
<rect x="569" y="556" width="5" height="3" fill="#0000ff"/>
<rect x="577" y="556" width="5" height="3" fill="#0000ff"/>
<rect x="585" y="556" width="5" height="3" fill="#0000ff"/>
<rect x="593" y="556" width="5" height="3" fill="#0000ff"/>
<rect x="601" y="556" width="5" height="3" fill="#0000ff"/>
<rect x="609" y="556" width="5" height="4" fill="#0000ff"/>
<rect x="617" y="556" width="5" height="5" fill="#0000ff"/>
<rect x="625" y="556" width="5" height="8" fill="#0000ff"/>
<rect x="633" y="556" width="5" height="10" fill="#0000ff"/>
<rect x="641" y="556" width="5" height="11" fill="#0000ff"/>
<rect x="649" y="556" width="5" height="10" fill="#0000ff"/>
<rect x="657" y="556" width="5" height="9" fill="#0000ff"/>
<rect x="665" y="556" width="5" height="11" fill="#0000ff"/>
<rect x="673" y="556" width="5" height="10" fill="#0000ff"/>
<rect x="681" y="556" width="5" height="11" fill="#0000ff"/>
<rect x="689" y="556" width="5" height="12" fill="#0000ff"/>
<rect x="697" y="556" width="5" height="11" fill="#0000ff"/>
<rect x="705" y="556" width="5" height="11" fill="#0000ff"/>
<path d="M2 492.5h11M2 493.5h15M12 494.5h11M16 495.5h13M22 496.5h11M497 496.5h14M28 497.5h8M495 497.5h30M32 498.5h6M493 498.5h5M510 498.5h17M35 499.5h5M491 499.5h5M524 499.5h6M37 500.5h5M489 500.5h5M526 500.5h7M39 501.5h5M487 501.5h5M529 501.5h8M41 502.5h5M485 502.5h5M532 502.5h9M43 503.5h5M483 503.5h5M536 503.5h7M45 504.5h5M481 504.5h5M540 504.5h6M47 505.5h5M478 505.5h6M542 505.5h7M49 506.5h5M476 506.5h6M545 506.5h8M51 507.5h5M474 507.5h5M548 507.5h49M53 508.5h5M401 508.5h6M422 508.5h17M472 508.5h5M552 508.5h49M55 509.5h5M398 509.5h47M471 509.5h4M596 509.5h11M57 510.5h5M396 510.5h6M406 510.5h17M438 510.5h9M470 510.5h3M600 510.5h13M59 511.5h5M393 511.5h6M444 511.5h6M468 511.5h4M606 511.5h9M61 512.5h5M391 512.5h6M446 512.5h9M467 512.5h4M612 512.5h6M63 513.5h5M389 513.5h5M449 513.5h20M614 513.5h6M65 514.5h5M387 514.5h5M454 514.5h14M617 514.5h5M67 515.5h5M386 515.5h4M619 515.5h5M69 516.5h5M384 516.5h4M621 516.5h5M71 517.5h6M382 517.5h5M623 517.5h5M73 518.5h6M381 518.5h4M625 518.5h5M76 519.5h6M379 519.5h4M627 519.5h5M78 520.5h7M377 520.5h5M629 520.5h5M81 521.5h6M374 521.5h6M631 521.5h5M84 522.5h6M372 522.5h6M633 522.5h5M86 523.5h6M370 523.5h5M635 523.5h4M89 524.5h5M369 524.5h4M637 524.5h4M91 525.5h4M369 525.5h2M638 525.5h5M93 526.5h4M368 526.5h3M640 526.5h13M94 527.5h5M367 527.5h3M642 527.5h15M96 528.5h4M366 528.5h3M652 528.5h8M98 529.5h3M366 529.5h2M656 529.5h6M99 530.5h3M144 530.5h12M365 530.5h3M659 530.5h5M100 531.5h3M140 531.5h18M364 531.5h3M661 531.5h5M101 532.5h4M137 532.5h8M155 532.5h4M363 532.5h3M663 532.5h8M102 533.5h4M135 533.5h6M157 533.5h4M363 533.5h2M665 533.5h11M104 534.5h3M133 534.5h5M158 534.5h5M362 534.5h3M670 534.5h8M105 535.5h4M131 535.5h5M160 535.5h20M361 535.5h3M675 535.5h5M106 536.5h5M129 536.5h5M162 536.5h20M360 536.5h3M677 536.5h5M108 537.5h6M126 537.5h6M179 537.5h5M360 537.5h2M679 537.5h5M110 538.5h9M124 538.5h6M181 538.5h5M359 538.5h3M681 538.5h5M113 539.5h14M183 539.5h6M358 539.5h3M683 539.5h5M118 540.5h7M185 540.5h6M357 540.5h3M685 540.5h5M188 541.5h6M356 541.5h3M687 541.5h6M190 542.5h6M356 542.5h2M689 542.5h8M193 543.5h4M355 543.5h3M692 543.5h16M195 544.5h3M354 544.5h3M696 544.5h12M196 545.5h3M353 545.5h3M197 546.5h3M352 546.5h3M198 547.5h3M351 547.5h3M199 548.5h3M350 548.5h3M200 549.5h3M350 549.5h2M201 550.5h3M349 550.5h3M202 551.5h3M348 551.5h3M203 552.5h4M347 552.5h3M204 553.5h4M346 553.5h3M206 554.5h3M345 554.5h3M207 555.5h4M344 555.5h3M208 556.5h4M343 556.5h3M210 557.5h4M342 557.5h3M211 558.5h4M341 558.5h3M213 559.5h4M340 559.5h3M214 560.5h5M339 560.5h3M216 561.5h7M338 561.5h3M218 562.5h11M337 562.5h3M222 563.5h9M336 563.5h3M228 564.5h6M334 564.5h4M230 565.5h7M333 565.5h4M233 566.5h6M332 566.5h3M236 567.5h6M331 567.5h3M238 568.5h7M330 568.5h3M241 569.5h8M329 569.5h3M244 570.5h9M278 570.5h17M328 570.5h3M248 571.5h9M270 571.5h31M327 571.5h3M252 572.5h27M294 572.5h9M326 572.5h3M256 573.5h15M300 573.5h6M325 573.5h3M302 574.5h15M324 574.5h3M305 575.5h16M323 575.5h3M316 576.5h9M320 577.5h4" stroke="#008000" stroke-width="1" fill="none"/>
<path d="M2 493.5h13M2 494.5h29M14 495.5h25M30 496.5h15M38 497.5h11M44 498.5h9M48 499.5h7M52 500.5h6M54 501.5h7M518 501.5h25M57 502.5h8M512 502.5h39M60 503.5h9M508 503.5h11M542 503.5h25M64 504.5h7M504 504.5h9M550 504.5h33M68 505.5h6M500 505.5h9M566 505.5h33M70 506.5h7M497 506.5h8M582 506.5h25M73 507.5h8M494 507.5h7M598 507.5h17M76 508.5h9M492 508.5h6M606 508.5h15M80 509.5h7M489 509.5h6M614 509.5h9M84 510.5h6M486 510.5h7M620 510.5h6M86 511.5h7M484 511.5h6M622 511.5h7M89 512.5h6M480 512.5h7M625 512.5h8M92 513.5h6M476 513.5h9M628 513.5h9M94 514.5h6M446 514.5h35M632 514.5h7M97 515.5h5M440 515.5h37M636 515.5h6M99 516.5h5M436 516.5h11M638 516.5h9M101 517.5h5M432 517.5h9M641 517.5h12M103 518.5h6M428 518.5h9M646 518.5h11M105 519.5h6M424 519.5h9M652 519.5h9M108 520.5h6M420 520.5h9M656 520.5h7M110 521.5h6M417 521.5h8M660 521.5h6M113 522.5h5M414 522.5h7M662 522.5h7M115 523.5h5M412 523.5h6M665 523.5h8M117 524.5h5M409 524.5h6M668 524.5h9M119 525.5h6M407 525.5h6M672 525.5h9M121 526.5h8M405 526.5h5M676 526.5h9M124 527.5h11M403 527.5h5M680 527.5h7M128 528.5h15M402 528.5h4M684 528.5h6M134 529.5h17M400 529.5h4M686 529.5h7M142 530.5h17M398 530.5h5M689 530.5h6M150 531.5h25M397 531.5h4M692 531.5h6M158 532.5h25M395 532.5h4M694 532.5h7M174 533.5h15M394 533.5h4M697 533.5h8M182 534.5h9M392 534.5h4M700 534.5h8M188 535.5h6M390 535.5h5M704 535.5h4M190 536.5h7M389 536.5h4M193 537.5h6M387 537.5h4M196 538.5h6M386 538.5h4M198 539.5h7M384 539.5h4M201 540.5h6M383 540.5h4M204 541.5h6M382 541.5h3M206 542.5h6M380 542.5h4M209 543.5h5M379 543.5h4M211 544.5h5M378 544.5h3M213 545.5h5M376 545.5h4M215 546.5h6M374 546.5h5M217 547.5h6M373 547.5h4M220 548.5h6M371 548.5h4M222 549.5h7M370 549.5h4M225 550.5h6M369 550.5h3M228 551.5h6M368 551.5h3M230 552.5h7M366 552.5h4M233 553.5h6M365 553.5h4M236 554.5h6M364 554.5h3M238 555.5h7M363 555.5h3M241 556.5h6M362 556.5h3M244 557.5h6M360 557.5h4M246 558.5h7M359 558.5h4M249 559.5h6M358 559.5h3M252 560.5h6M356 560.5h4M254 561.5h7M355 561.5h4M257 562.5h8M353 562.5h4M260 563.5h11M351 563.5h5M264 564.5h13M349 564.5h5M270 565.5h11M347 565.5h5M276 566.5h11M345 566.5h5M280 567.5h13M342 567.5h6M286 568.5h11M340 568.5h6M292 569.5h19M334 569.5h9M296 570.5h45M310 571.5h25" stroke="#ff0000" stroke-width="1" fill="none"/>
<rect x="4" y="532" width="3" height="1" fill="#ffd700"/>
<rect x="10" y="532" width="3" height="1" fill="#ffd700"/>
<rect x="16" y="532" width="3" height="1" fill="#ffd700"/>
<rect x="22" y="532" width="3" height="1" fill="#ffd700"/>
<rect x="28" y="532" width="3" height="1" fill="#ffd700"/>
<rect x="34" y="532" width="3" height="1" fill="#ffd700"/>
<rect x="40" y="532" width="3" height="1" fill="#ffd700"/>
<rect x="46" y="532" width="3" height="1" fill="#ffd700"/>
<rect x="52" y="532" width="3" height="1" fill="#ffd700"/>
<rect x="58" y="532" width="3" height="1" fill="#ffd700"/>
<rect x="64" y="532" width="3" height="1" fill="#ffd700"/>
<rect x="70" y="532" width="3" height="1" fill="#ffd700"/>
<rect x="76" y="532" width="3" height="1" fill="#ffd700"/>
<rect x="82" y="532" width="3" height="1" fill="#ffd700"/>
<rect x="88" y="532" width="3" height="1" fill="#ffd700"/>
<rect x="94" y="532" width="3" height="1" fill="#ffd700"/>
<rect x="100" y="532" width="3" height="1" fill="#ffd700"/>
<rect x="106" y="532" width="3" height="1" fill="#ffd700"/>
<rect x="112" y="532" width="3" height="1" fill="#ffd700"/>
<rect x="118" y="532" width="3" height="1" fill="#ffd700"/>
<rect x="124" y="532" width="3" height="1" fill="#ffd700"/>
<rect x="130" y="532" width="3" height="1" fill="#ffd700"/>
<rect x="136" y="532" width="3" height="1" fill="#ffd700"/>
<rect x="142" y="532" width="3" height="1" fill="#ffd700"/>
<rect x="148" y="532" width="3" height="1" fill="#ffd700"/>
<rect x="154" y="532" width="3" height="1" fill="#ffd700"/>
<rect x="160" y="532" width="3" height="1" fill="#ffd700"/>
<rect x="166" y="532" width="3" height="1" fill="#ffd700"/>
<rect x="172" y="532" width="3" height="1" fill="#ffd700"/>
<rect x="178" y="532" width="3" height="1" fill="#ffd700"/>
<rect x="184" y="532" width="3" height="1" fill="#ffd700"/>
<rect x="190" y="532" width="3" height="1" fill="#ffd700"/>
<rect x="196" y="532" width="3" height="1" fill="#ffd700"/>
<rect x="202" y="532" width="3" height="1" fill="#ffd700"/>
<rect x="208" y="532" width="3" height="1" fill="#ffd700"/>
<rect x="214" y="532" width="3" height="1" fill="#ffd700"/>
<rect x="220" y="532" width="3" height="1" fill="#ffd700"/>
<rect x="226" y="532" width="3" height="1" fill="#ffd700"/>
<rect x="232" y="532" width="3" height="1" fill="#ffd700"/>
<rect x="238" y="532" width="3" height="1" fill="#ffd700"/>
<rect x="244" y="532" width="3" height="1" fill="#ffd700"/>
<rect x="250" y="532" width="3" height="1" fill="#ffd700"/>
<rect x="256" y="532" width="3" height="1" fill="#ffd700"/>
<rect x="262" y="532" width="3" height="1" fill="#ffd700"/>
<rect x="268" y="532" width="3" height="1" fill="#ffd700"/>
<rect x="274" y="532" width="3" height="1" fill="#ffd700"/>
<rect x="280" y="532" width="3" height="1" fill="#ffd700"/>
<rect x="286" y="532" width="3" height="1" fill="#ffd700"/>
<rect x="292" y="532" width="3" height="1" fill="#ffd700"/>
<rect x="298" y="532" width="3" height="1" fill="#ffd700"/>
<rect x="304" y="532" width="3" height="1" fill="#ffd700"/>
<rect x="310" y="532" width="3" height="1" fill="#ffd700"/>
<rect x="316" y="532" width="3" height="1" fill="#ffd700"/>
<rect x="322" y="532" width="3" height="1" fill="#ffd700"/>
<rect x="328" y="532" width="3" height="1" fill="#ffd700"/>
<rect x="334" y="532" width="3" height="1" fill="#ffd700"/>
<rect x="340" y="532" width="3" height="1" fill="#ffd700"/>
<rect x="346" y="532" width="3" height="1" fill="#ffd700"/>
<rect x="352" y="532" width="3" height="1" fill="#ffd700"/>
<rect x="358" y="532" width="3" height="1" fill="#ffd700"/>
<rect x="364" y="532" width="3" height="1" fill="#ffd700"/>
<rect x="370" y="532" width="3" height="1" fill="#ffd700"/>
<rect x="376" y="532" width="3" height="1" fill="#ffd700"/>
<rect x="382" y="532" width="3" height="1" fill="#ffd700"/>
<rect x="388" y="532" width="3" height="1" fill="#ffd700"/>
<rect x="394" y="532" width="3" height="1" fill="#ffd700"/>
<rect x="400" y="532" width="3" height="1" fill="#ffd700"/>
<rect x="406" y="532" width="3" height="1" fill="#ffd700"/>
<rect x="412" y="532" width="3" height="1" fill="#ffd700"/>
<rect x="418" y="532" width="3" height="1" fill="#ffd700"/>
<rect x="424" y="532" width="3" height="1" fill="#ffd700"/>
<rect x="430" y="532" width="3" height="1" fill="#ffd700"/>
<rect x="436" y="532" width="3" height="1" fill="#ffd700"/>
<rect x="442" y="532" width="3" height="1" fill="#ffd700"/>
<rect x="448" y="532" width="3" height="1" fill="#ffd700"/>
<rect x="454" y="532" width="3" height="1" fill="#ffd700"/>
<rect x="460" y="532" width="3" height="1" fill="#ffd700"/>
<rect x="466" y="532" width="3" height="1" fill="#ffd700"/>
<rect x="472" y="532" width="3" height="1" fill="#ffd700"/>
<rect x="478" y="532" width="3" height="1" fill="#ffd700"/>
<rect x="484" y="532" width="3" height="1" fill="#ffd700"/>
<rect x="490" y="532" width="3" height="1" fill="#ffd700"/>
<rect x="496" y="532" width="3" height="1" fill="#ffd700"/>
<rect x="502" y="532" width="3" height="1" fill="#ffd700"/>
<rect x="508" y="532" width="3" height="1" fill="#ffd700"/>
<rect x="514" y="532" width="3" height="1" fill="#ffd700"/>
<rect x="520" y="532" width="3" height="1" fill="#ffd700"/>
<rect x="526" y="532" width="3" height="1" fill="#ffd700"/>
<rect x="532" y="532" width="3" height="1" fill="#ffd700"/>
<rect x="538" y="532" width="3" height="1" fill="#ffd700"/>
<rect x="544" y="532" width="3" height="1" fill="#ffd700"/>
<rect x="550" y="532" width="3" height="1" fill="#ffd700"/>
<rect x="556" y="532" width="3" height="1" fill="#ffd700"/>
<rect x="562" y="532" width="3" height="1" fill="#ffd700"/>
<rect x="568" y="532" width="3" height="1" fill="#ffd700"/>
<rect x="574" y="532" width="3" height="1" fill="#ffd700"/>
<rect x="580" y="532" width="3" height="1" fill="#ffd700"/>
<rect x="586" y="532" width="3" height="1" fill="#ffd700"/>
<rect x="592" y="532" width="3" height="1" fill="#ffd700"/>
<rect x="598" y="532" width="3" height="1" fill="#ffd700"/>
<rect x="604" y="532" width="3" height="1" fill="#ffd700"/>
<rect x="610" y="532" width="3" height="1" fill="#ffd700"/>
<rect x="616" y="532" width="3" height="1" fill="#ffd700"/>
<rect x="622" y="532" width="3" height="1" fill="#ffd700"/>
<rect x="628" y="532" width="3" height="1" fill="#ffd700"/>
<rect x="634" y="532" width="3" height="1" fill="#ffd700"/>
<rect x="640" y="532" width="3" height="1" fill="#ffd700"/>
<rect x="646" y="532" width="3" height="1" fill="#ffd700"/>
<rect x="652" y="532" width="3" height="1" fill="#ffd700"/>
<rect x="658" y="532" width="3" height="1" fill="#ffd700"/>
<rect x="664" y="532" width="3" height="1" fill="#ffd700"/>
<rect x="670" y="532" width="3" height="1" fill="#ffd700"/>
<rect x="676" y="532" width="3" height="1" fill="#ffd700"/>
<rect x="682" y="532" width="3" height="1" fill="#ffd700"/>
<rect x="688" y="532" width="3" height="1" fill="#ffd700"/>
<rect x="694" y="532" width="3" height="1" fill="#ffd700"/>
<rect x="700" y="532" width="3" height="1" fill="#ffd700"/>
<rect x="706" y="532" width="3" height="1" fill="#ffd700"/>
<rect x="712" y="532" width="3" height="1" fill="#ffd700"/>
<rect x="718" y="532" width="3" height="1" fill="#ffd700"/>
<rect x="724" y="532" width="3" height="1" fill="#ffd700"/>
<rect x="730" y="532" width="3" height="1" fill="#ffd700"/>
<rect x="736" y="532" width="3" height="1" fill="#ffd700"/>
<rect x="742" y="532" width="3" height="1" fill="#ffd700"/>
<rect x="748" y="532" width="3" height="1" fill="#ffd700"/>
<rect x="754" y="532" width="3" height="1" fill="#ffd700"/>
<rect x="761" y="556" width="1" height="1" fill="#fff"/>
<rect x="3" y="582" width="1" height="4" fill="#fff"/>
<rect x="67" y="582" width="1" height="4" fill="#fff"/>
<rect x="131" y="582" width="1" height="4" fill="#fff"/>
<rect x="195" y="582" width="1" height="4" fill="#fff"/>
<rect x="259" y="582" width="1" height="4" fill="#fff"/>
<rect x="323" y="582" width="1" height="4" fill="#fff"/>
<rect x="387" y="582" width="1" height="4" fill="#fff"/>
<rect x="451" y="582" width="1" height="4" fill="#fff"/>
<rect x="515" y="582" width="1" height="4" fill="#fff"/>
<rect x="579" y="582" width="1" height="4" fill="#fff"/>
<rect x="643" y="582" width="1" height="4" fill="#fff"/>
<rect x="707" y="582" width="1" height="4" fill="#fff"/>
<rect x="761" y="198" width="1" height="1" fill="#fff"/>
<rect x="761" y="290" width="1" height="1" fill="#fff"/>
<rect x="761" y="295" width="1" height="1" fill="#fff"/>
<rect x="761" y="387" width="1" height="1" fill="#fff"/>
<rect x="761" y="392" width="1" height="1" fill="#fff"/>
<rect x="761" y="484" width="1" height="1" fill="#fff"/>
<rect x="761" y="489" width="1" height="1" fill="#fff"/>
<rect x="761" y="581" width="1" height="1" fill="#fff"/>
<g filter="url(#tf)" font-size="9.6" text-rendering="geometricPrecision">
<text transform="translate(736 13) scale(0.936 1)" fill="#ffff00" textLength="24.57" lengthAdjust="spacing" xml:space="preserve">100.0</text>
<text transform="translate(741 53) scale(0.936 1)" fill="#ffff00" textLength="19.23" lengthAdjust="spacing" xml:space="preserve">0.76</text>
<text transform="translate(741 77) scale(0.936 1)" fill="#ffff00" textLength="19.23" lengthAdjust="spacing" xml:space="preserve">61.8</text>
<text transform="translate(741 96) scale(0.936 1)" fill="#ffff00" textLength="19.23" lengthAdjust="spacing" xml:space="preserve">50.0</text>
<text transform="translate(741 116) scale(0.936 1)" fill="#ffff00" textLength="19.23" lengthAdjust="spacing" xml:space="preserve">38.2</text>
<text transform="translate(741 132) scale(0.936 1)" fill="#ffff00" textLength="19.23" lengthAdjust="spacing" xml:space="preserve">0.76</text>
<text transform="translate(741 140) scale(0.936 1)" fill="#ffff00" textLength="19.23" lengthAdjust="spacing" xml:space="preserve">23.6</text>
<text transform="translate(746 179) scale(0.936 1)" fill="#ffff00" textLength="13.89" lengthAdjust="spacing" xml:space="preserve">0.0</text>
<text transform="translate(6 14) scale(0.936 1)" fill="#fff" textLength="191.24" lengthAdjust="spacing" xml:space="preserve">USDJPY,H1  107.74 107.79 107.73 107.77</text>
<text transform="translate(766 19) scale(0.936 1)" fill="#fff" textLength="29.91" lengthAdjust="spacing" xml:space="preserve">107.95</text>
<text transform="translate(766 89) scale(0.936 1)" fill="#fff" textLength="29.91" lengthAdjust="spacing" xml:space="preserve">107.15</text>
<text transform="translate(766 123) scale(0.936 1)" fill="#fff" textLength="29.91" lengthAdjust="spacing" xml:space="preserve">106.75</text>
<text transform="translate(766 158) scale(0.936 1)" fill="#fff" textLength="29.91" lengthAdjust="spacing" xml:space="preserve">106.35</text>
<text transform="translate(766 192) scale(0.936 1)" fill="#fff" textLength="29.91" lengthAdjust="spacing" xml:space="preserve">105.95</text>
<g clip-path="url(#cp55)"><text transform="translate(766 54) scale(0.936 1)" fill="#fff" textLength="29.91" lengthAdjust="spacing" xml:space="preserve">107.55</text></g>
<text transform="translate(766 35) scale(0.936 1)" fill="#000" textLength="29.91" lengthAdjust="spacing" xml:space="preserve">107.77</text>
<text transform="translate(766 57) scale(0.936 1)" fill="#000" textLength="29.91" lengthAdjust="spacing" xml:space="preserve">107.51</text>
<text transform="translate(6 210) scale(0.936 1)" fill="#fff" textLength="72.65" lengthAdjust="spacing" xml:space="preserve">RSI(14) 55.4988</text>
<text transform="translate(4 218) scale(0.936 1)" fill="#fff" textLength="24.57" lengthAdjust="spacing" xml:space="preserve">76.27</text>
<text transform="translate(4 242) scale(0.936 1)" fill="#fff" textLength="10.68" lengthAdjust="spacing" xml:space="preserve">50</text>
<text transform="translate(4 268) scale(0.936 1)" fill="#fff" textLength="24.57" lengthAdjust="spacing" xml:space="preserve">22.03</text>
<text transform="translate(763 207) scale(0.936 1)" fill="#fff" textLength="16.03" lengthAdjust="spacing" xml:space="preserve">100</text>
<text transform="translate(763 223) scale(0.936 1)" fill="#fff" textLength="24.57" lengthAdjust="spacing" xml:space="preserve">76.27</text>
<text transform="translate(763 247) scale(0.936 1)" fill="#fff" textLength="10.68" lengthAdjust="spacing" xml:space="preserve">50</text>
<text transform="translate(763 273) scale(0.936 1)" fill="#fff" textLength="24.57" lengthAdjust="spacing" xml:space="preserve">22.03</text>
<text transform="translate(763.6 288) scale(0.936 1)" fill="#fff" textLength="5.34" lengthAdjust="spacing" xml:space="preserve">0</text>
<text transform="translate(6 307) scale(0.936 1)" fill="#fff" textLength="120.73" lengthAdjust="spacing" xml:space="preserve">Sto(5,3,3) 37.1681 31.9990</text>
<text transform="translate(4 339) scale(0.936 1)" fill="#fff" textLength="10.68" lengthAdjust="spacing" xml:space="preserve">50</text>
<text transform="translate(763 304) scale(0.936 1)" fill="#fff" textLength="16.03" lengthAdjust="spacing" xml:space="preserve">100</text>
<text transform="translate(763 344) scale(0.936 1)" fill="#fff" textLength="10.68" lengthAdjust="spacing" xml:space="preserve">50</text>
<text transform="translate(763.6 385) scale(0.936 1)" fill="#fff" textLength="5.34" lengthAdjust="spacing" xml:space="preserve">0</text>
<text transform="translate(6 404) scale(0.936 1)" fill="#fff" textLength="127.14" lengthAdjust="spacing" xml:space="preserve">MACD(12,26,9) 0.050 0.088</text>
<text transform="translate(763.6 401) scale(0.936 1)" fill="#fff" textLength="24.57" lengthAdjust="spacing" xml:space="preserve">0.285</text>
<text transform="translate(763.6 462) scale(0.936 1)" fill="#fff" textLength="19.23" lengthAdjust="spacing" xml:space="preserve">0.00</text>
<text transform="translate(763.6 482) scale(0.936 1)" fill="#fff" textLength="27.78" lengthAdjust="spacing" xml:space="preserve">-0.109</text>
<text transform="translate(6 501) scale(0.936 1)" fill="#fff" textLength="213.68" lengthAdjust="spacing" xml:space="preserve">MACD  (12,26,9) 0.0000 -0.0372 0.0499 0.0872</text>
<text transform="translate(4 530) scale(0.936 1)" fill="#fff" textLength="19.23" lengthAdjust="spacing" xml:space="preserve">0.10</text>
<text transform="translate(763.6 498) scale(0.936 1)" fill="#fff" textLength="29.91" lengthAdjust="spacing" xml:space="preserve">0.2848</text>
<text transform="translate(763.6 535) scale(0.936 1)" fill="#fff" textLength="13.89" lengthAdjust="spacing" xml:space="preserve">0.1</text>
<text transform="translate(763.6 559) scale(0.936 1)" fill="#fff" textLength="19.23" lengthAdjust="spacing" xml:space="preserve">0.00</text>
<text transform="translate(763.6 579) scale(0.936 1)" fill="#fff" textLength="33.12" lengthAdjust="spacing" xml:space="preserve">-0.1091</text>
<text transform="translate(0 578) scale(0.936 1)" fill="#fff"><tspan x="5.34" textLength="57.69" lengthAdjust="spacing">MetaTrader,</tspan> <tspan x="66.77" font-size="12.5">©</tspan> <tspan x="80.13" textLength="45.94" lengthAdjust="spacing">2001-2008</tspan> <tspan x="129.27" textLength="57.69" lengthAdjust="spacing">MetaQuotes</tspan> <tspan x="189.10" textLength="43.80" lengthAdjust="spacing">Software</tspan> <tspan x="235.04" textLength="27.78" lengthAdjust="spacing">Corp.</tspan></text>
<text transform="translate(2 595) scale(0.936 1)" fill="#fff" textLength="49.15" lengthAdjust="spacing" xml:space="preserve">18 Jul 2008</text>
<text transform="translate(66 595) scale(0.936 1)" fill="#fff" textLength="53.42" lengthAdjust="spacing" xml:space="preserve">21 Jul 03:00</text>
<text transform="translate(130 595) scale(0.936 1)" fill="#fff" textLength="53.42" lengthAdjust="spacing" xml:space="preserve">21 Jul 11:00</text>
<text transform="translate(194 595) scale(0.936 1)" fill="#fff" textLength="53.42" lengthAdjust="spacing" xml:space="preserve">21 Jul 19:00</text>
<text transform="translate(258 595) scale(0.936 1)" fill="#fff" textLength="53.42" lengthAdjust="spacing" xml:space="preserve">22 Jul 03:00</text>
<text transform="translate(322 595) scale(0.936 1)" fill="#fff" textLength="53.42" lengthAdjust="spacing" xml:space="preserve">22 Jul 11:00</text>
<text transform="translate(386 595) scale(0.936 1)" fill="#fff" textLength="53.42" lengthAdjust="spacing" xml:space="preserve">22 Jul 19:00</text>
<text transform="translate(450 595) scale(0.936 1)" fill="#fff" textLength="53.42" lengthAdjust="spacing" xml:space="preserve">23 Jul 03:00</text>
<text transform="translate(514 595) scale(0.936 1)" fill="#fff" textLength="53.42" lengthAdjust="spacing" xml:space="preserve">23 Jul 11:00</text>
<text transform="translate(578 595) scale(0.936 1)" fill="#fff" textLength="53.42" lengthAdjust="spacing" xml:space="preserve">23 Jul 19:00</text>
<text transform="translate(642 595) scale(0.936 1)" fill="#fff" textLength="53.42" lengthAdjust="spacing" xml:space="preserve">24 Jul 03:00</text>
<text transform="translate(706 595) scale(0.936 1)" fill="#fff" textLength="53.42" lengthAdjust="spacing" xml:space="preserve">24 Jul 11:00</text>
</g>
</svg>
</body></html>
